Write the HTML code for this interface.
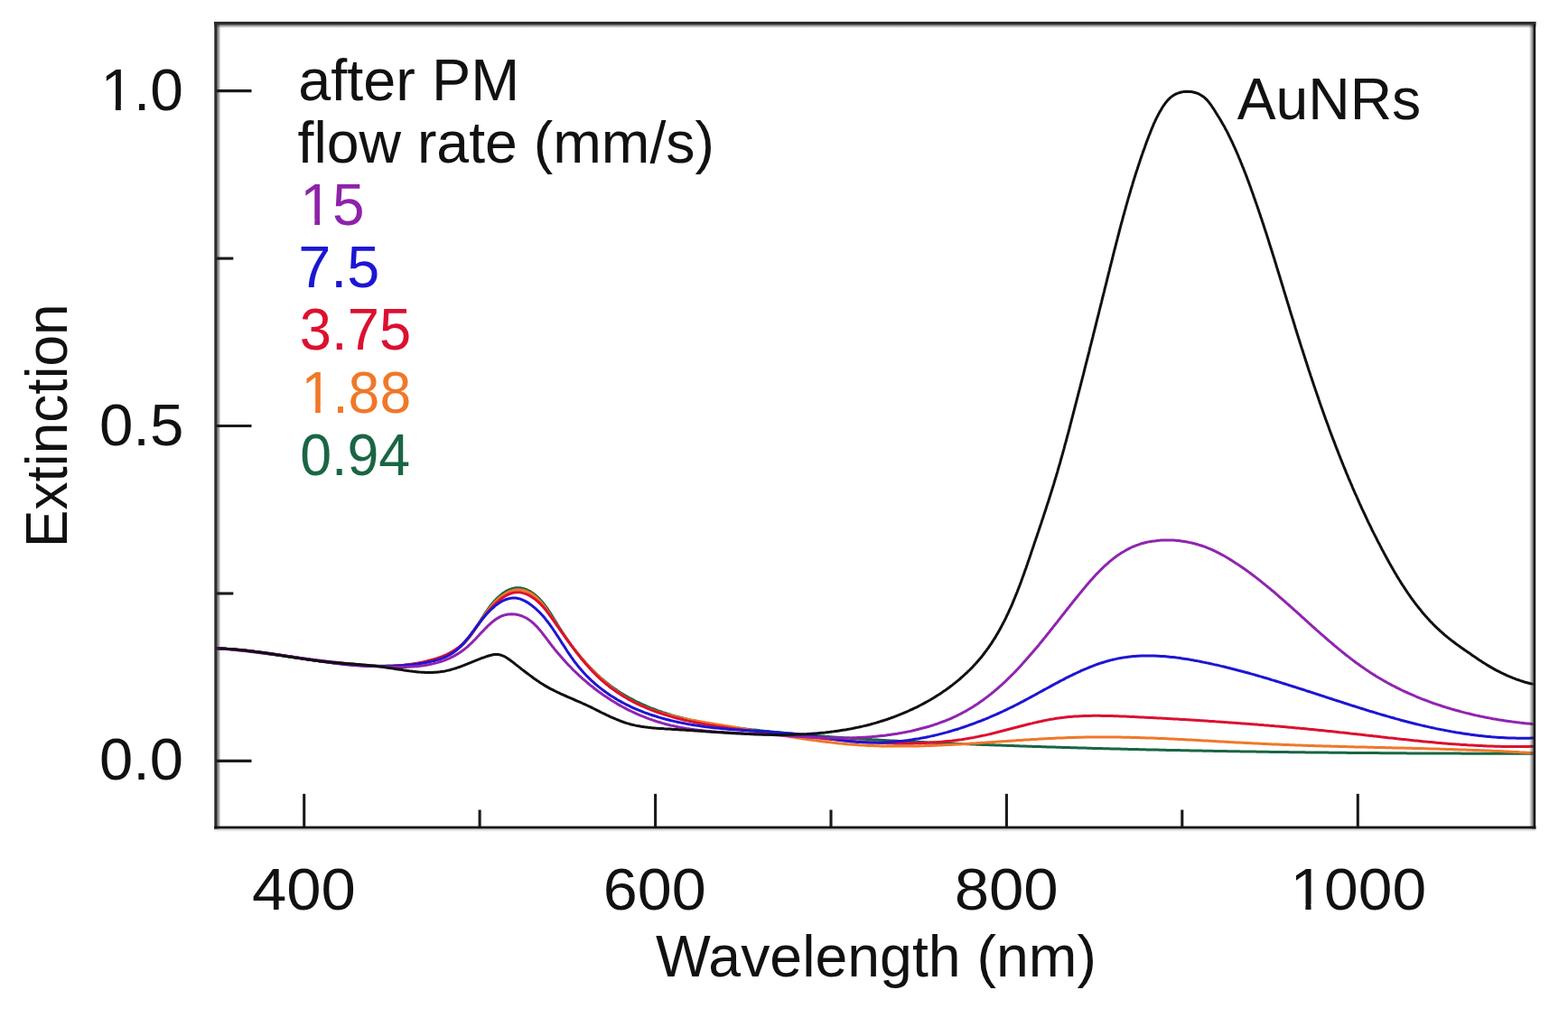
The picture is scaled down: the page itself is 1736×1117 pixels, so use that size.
<!DOCTYPE html>
<html><head><meta charset="utf-8"><title>Extinction spectra</title>
<style>html,body{margin:0;padding:0;background:#fff;}body{width:1736px;height:1117px;overflow:hidden;}svg{display:block;}</style>
</head><body>
<svg width="1736" height="1117" viewBox="0 0 1736 1117">
<rect width="100%" height="100%" fill="#ffffff"/>
<g fill="none" stroke-width="3.0" stroke-linejoin="round" stroke-linecap="round">
<path d="M240.3 717.7L242.3 717.8L244.3 717.9L246.3 718.1L248.3 718.2L250.3 718.3L252.3 718.5L254.3 718.6L256.3 718.8L258.3 718.9L260.3 719.1L262.3 719.3L264.3 719.5L266.3 719.7L268.3 719.9L270.3 720.1L272.2 720.3L274.2 720.6L276.2 720.8L278.2 721.0L280.2 721.3L282.2 721.5L284.2 721.8L286.2 722.0L288.2 722.3L290.1 722.5L292.1 722.8L294.1 723.1L296.1 723.3L298.1 723.6L300.1 723.9L302.0 724.2L304.0 724.5L306.0 724.8L308.0 725.0L310.0 725.3L311.9 725.6L313.9 725.9L315.9 726.2L317.9 726.5L319.9 726.8L321.8 727.1L323.8 727.4L325.8 727.7L327.8 728.0L329.8 728.3L331.7 728.6L333.7 728.9L335.7 729.2L337.7 729.5L339.7 729.8L341.6 730.1L343.6 730.4L345.6 730.6L347.6 730.9L349.6 731.2L351.6 731.5L353.5 731.7L355.5 732.0L357.5 732.3L359.5 732.5L361.5 732.8L363.5 733.0L365.5 733.3L367.4 733.5L369.4 733.8L371.4 734.0L373.4 734.2L375.4 734.4L377.4 734.6L379.4 734.8L381.4 735.0L383.4 735.2L385.4 735.4L387.4 735.6L389.4 735.8L391.4 735.9L393.4 736.1L395.3 736.2L397.3 736.4L399.3 736.5L401.3 736.6L403.3 736.7L405.3 736.8L407.3 736.9L409.3 737.0L411.3 737.0L413.3 737.1L415.4 737.1L417.4 737.2L419.4 737.2L421.4 737.2L423.4 737.2L425.4 737.2L427.4 737.2L429.4 737.1L431.4 737.1L433.4 737.0L435.4 737.0L437.4 736.9L439.4 736.8L441.4 736.7L443.4 736.6L445.4 736.4L447.4 736.3L449.4 736.1L451.4 735.9L453.3 735.7L455.3 735.5L457.3 735.3L459.3 735.0L461.3 734.8L463.3 734.5L465.3 734.2L467.2 733.8L469.2 733.5L471.2 733.1L473.1 732.7L475.1 732.2L477.0 731.7L479.0 731.2L480.9 730.7L482.8 730.1L484.7 729.5L486.6 728.9L488.5 728.2L490.3 727.4L492.2 726.7L494.0 725.8L495.8 725.0L497.6 724.1L499.4 723.1L501.1 722.1L502.8 721.1L504.5 720.0L506.1 718.8L507.7 717.6L509.3 716.4L510.8 715.0L512.3 713.7L513.7 712.3L515.1 710.8L516.4 709.4L517.7 707.8L519.0 706.3L520.2 704.7L521.4 703.1L522.6 701.5L523.7 699.8L524.8 698.2L525.9 696.5L527.0 694.8L528.1 693.1L529.2 691.4L530.3 689.7L531.3 688.0L532.4 686.3L533.4 684.6L534.5 683.0L535.6 681.3L536.7 679.6L537.8 677.9L538.9 676.3L540.1 674.6L541.2 673.0L542.4 671.4L543.7 669.8L544.9 668.2L546.2 666.7L547.5 665.2L548.9 663.8L550.3 662.3L551.8 661.0L553.3 659.6L554.8 658.3L556.4 657.1L558.0 656.0L559.7 654.9L561.5 653.9L563.3 653.0L565.1 652.3L567.0 651.6L569.0 651.2L570.9 650.8L572.9 650.7L574.9 650.7L576.9 651.0L578.9 651.4L580.8 652.0L582.7 652.7L584.5 653.5L586.3 654.4L588.0 655.4L589.7 656.5L591.3 657.7L592.9 658.9L594.4 660.3L595.8 661.6L597.3 663.0L598.6 664.5L600.0 666.0L601.2 667.5L602.5 669.1L603.7 670.7L604.9 672.3L606.1 673.9L607.2 675.6L608.3 677.2L609.4 678.9L610.5 680.6L611.6 682.3L612.6 684.0L613.7 685.7L614.7 687.4L615.8 689.1L616.8 690.8L617.9 692.5L618.9 694.2L620.0 695.9L621.1 697.6L622.2 699.3L623.2 701.0L624.4 702.6L625.5 704.3L626.6 705.9L627.7 707.6L628.9 709.2L630.0 710.9L631.2 712.5L632.4 714.1L633.6 715.7L634.8 717.3L636.0 718.9L637.2 720.5L638.5 722.1L639.7 723.6L641.0 725.2L642.3 726.7L643.5 728.3L644.8 729.8L646.2 731.3L647.5 732.8L648.8 734.3L650.2 735.8L651.5 737.2L652.9 738.7L654.3 740.1L655.7 741.5L657.1 742.9L658.6 744.3L660.0 745.7L661.5 747.1L663.0 748.4L664.4 749.8L666.0 751.1L667.5 752.4L669.0 753.7L670.6 755.0L672.1 756.2L673.7 757.5L675.3 758.7L676.9 759.9L678.5 761.0L680.1 762.2L681.8 763.3L683.4 764.5L685.1 765.6L686.8 766.7L688.5 767.7L690.2 768.8L691.9 769.8L693.7 770.8L695.4 771.8L697.2 772.8L698.9 773.7L700.7 774.6L702.5 775.6L704.3 776.5L706.1 777.3L707.9 778.2L709.7 779.0L711.5 779.9L713.3 780.7L715.2 781.5L717.0 782.3L718.9 783.0L720.7 783.8L722.6 784.5L724.5 785.2L726.3 785.9L728.2 786.6L730.1 787.3L732.0 787.9L733.9 788.6L735.8 789.2L737.7 789.8L739.6 790.4L741.5 791.0L743.4 791.6L745.4 792.1L747.3 792.7L749.2 793.2L751.2 793.7L753.1 794.2L755.0 794.7L757.0 795.2L758.9 795.7L760.9 796.2L762.8 796.6L764.8 797.1L766.7 797.5L768.7 797.9L770.6 798.3L772.6 798.7L774.6 799.1L776.5 799.5L778.5 799.9L780.5 800.3L782.4 800.6L784.4 801.0L786.4 801.3L788.3 801.7L790.3 802.0L792.3 802.3L794.3 802.7L796.2 803.0L798.2 803.3L800.2 803.6L802.2 803.9L804.2 804.1L806.2 804.4L808.1 804.7L810.1 805.0L812.1 805.2L814.1 805.5L816.1 805.8L818.1 806.0L820.1 806.3L822.0 806.5L824.0 806.7L826.0 807.0L828.0 807.2L830.0 807.4L832.0 807.7L834.0 807.9L836.0 808.1L838.0 808.3L839.9 808.5L841.9 808.8L843.9 809.0L845.9 809.2L847.9 809.4L849.9 809.6L851.9 809.8L853.9 810.0L855.9 810.2L857.9 810.4L859.9 810.6L861.9 810.8L863.8 811.0L865.8 811.2L867.8 811.4L869.8 811.6L871.8 811.8L873.8 811.9L875.8 812.1L877.8 812.3L879.8 812.5L881.8 812.7L883.8 812.8L885.8 813.0L887.8 813.2L889.8 813.4L891.8 813.5L893.8 813.7L895.8 813.9L897.8 814.0L899.7 814.2L901.7 814.4L903.7 814.5L905.7 814.7L907.7 814.8L909.7 815.0L911.7 815.1L913.7 815.3L915.7 815.4L917.7 815.6L919.7 815.7L921.7 815.9L923.7 816.0L925.7 816.2L927.7 816.3L929.7 816.5L931.7 816.6L933.7 816.7L935.7 816.9L937.7 817.0L939.7 817.1L941.7 817.3L943.7 817.4L945.7 817.5L947.7 817.7L949.7 817.8L951.7 817.9L953.7 818.0L955.7 818.2L957.7 818.3L959.7 818.4L961.7 818.5L963.7 818.6L965.7 818.8L967.7 818.9L969.7 819.0L971.7 819.1L973.7 819.2L975.7 819.3L977.7 819.4L979.7 819.5L981.7 819.7L983.7 819.8L985.7 819.9L987.7 820.0L989.7 820.1L991.7 820.2L993.7 820.3L995.7 820.4L997.7 820.5L999.7 820.6L1001.7 820.7L1003.7 820.8L1005.7 820.9L1007.7 821.0L1009.7 821.1L1011.7 821.2L1013.7 821.3L1015.7 821.4L1017.7 821.5L1019.7 821.6L1021.7 821.6L1023.7 821.7L1025.7 821.8L1027.7 821.9L1029.7 822.0L1031.7 822.1L1033.7 822.2L1035.7 822.3L1037.7 822.4L1039.7 822.4L1041.7 822.5L1043.7 822.6L1045.7 822.7L1047.7 822.8L1049.7 822.9L1051.7 823.0L1053.7 823.0L1055.7 823.1L1057.7 823.2L1059.7 823.3L1061.7 823.4L1063.7 823.4L1065.7 823.5L1067.7 823.6L1069.7 823.7L1071.7 823.8L1073.7 823.8L1075.7 823.9L1077.7 824.0L1079.7 824.1L1081.7 824.2L1083.7 824.2L1085.7 824.3L1087.7 824.4L1089.7 824.5L1091.7 824.5L1093.7 824.6L1095.7 824.7L1097.7 824.8L1099.7 824.8L1101.7 824.9L1103.7 825.0L1105.7 825.0L1107.7 825.1L1109.7 825.2L1111.7 825.3L1113.7 825.3L1115.7 825.4L1117.7 825.5L1119.7 825.5L1121.7 825.6L1123.7 825.7L1125.7 825.8L1127.7 825.8L1129.7 825.9L1131.7 826.0L1133.7 826.0L1135.7 826.1L1137.7 826.2L1139.7 826.2L1141.7 826.3L1143.7 826.4L1145.7 826.4L1147.7 826.5L1149.7 826.6L1151.7 826.6L1153.7 826.7L1155.7 826.8L1157.7 826.8L1159.7 826.9L1161.7 826.9L1163.7 827.0L1165.7 827.1L1167.7 827.1L1169.7 827.2L1171.7 827.3L1173.7 827.3L1175.7 827.4L1177.7 827.4L1179.7 827.5L1181.7 827.6L1183.7 827.6L1185.7 827.7L1187.7 827.7L1189.7 827.8L1191.7 827.8L1193.8 827.9L1195.8 828.0L1197.8 828.0L1199.8 828.1L1201.8 828.1L1203.8 828.2L1205.8 828.2L1207.8 828.3L1209.8 828.4L1211.8 828.4L1213.8 828.5L1215.8 828.5L1217.8 828.6L1219.8 828.6L1221.8 828.7L1223.8 828.7L1225.8 828.8L1227.8 828.8L1229.8 828.9L1231.8 828.9L1233.8 829.0L1235.8 829.0L1237.8 829.1L1239.8 829.1L1241.8 829.2L1243.8 829.2L1245.8 829.3L1247.8 829.3L1249.8 829.4L1251.8 829.4L1253.8 829.5L1255.8 829.5L1257.8 829.6L1259.8 829.6L1261.8 829.7L1263.8 829.7L1265.8 829.8L1267.8 829.8L1269.8 829.9L1271.8 829.9L1273.8 830.0L1275.8 830.0L1277.8 830.1L1279.8 830.1L1281.8 830.1L1283.8 830.2L1285.8 830.2L1287.8 830.3L1289.8 830.3L1291.8 830.4L1293.8 830.4L1295.8 830.4L1297.8 830.5L1299.8 830.5L1301.8 830.6L1303.8 830.6L1305.9 830.6L1307.9 830.7L1309.9 830.7L1311.9 830.8L1313.9 830.8L1315.9 830.8L1317.9 830.9L1319.9 830.9L1321.9 831.0L1323.9 831.0L1325.9 831.0L1327.9 831.1L1329.9 831.1L1331.9 831.2L1333.9 831.2L1335.9 831.2L1337.9 831.3L1339.9 831.3L1341.9 831.3L1343.9 831.4L1345.9 831.4L1347.9 831.4L1349.9 831.5L1351.9 831.5L1353.9 831.6L1355.9 831.6L1357.9 831.6L1359.9 831.7L1361.9 831.7L1363.9 831.7L1365.9 831.8L1367.9 831.8L1369.9 831.8L1371.9 831.8L1373.9 831.9L1375.9 831.9L1377.9 831.9L1379.9 832.0L1381.9 832.0L1383.9 832.0L1385.9 832.1L1387.9 832.1L1389.9 832.1L1391.9 832.2L1393.9 832.2L1395.9 832.2L1397.9 832.2L1399.9 832.3L1402.0 832.3L1404.0 832.3L1406.0 832.4L1408.0 832.4L1410.0 832.4L1412.0 832.4L1414.0 832.5L1416.0 832.5L1418.0 832.5L1420.0 832.5L1422.0 832.6L1424.0 832.6L1426.0 832.6L1428.0 832.7L1430.0 832.7L1432.0 832.7L1434.0 832.7L1436.0 832.8L1438.0 832.8L1440.0 832.8L1442.0 832.8L1444.0 832.8L1446.0 832.9L1448.0 832.9L1450.0 832.9L1452.0 832.9L1454.0 833.0L1456.0 833.0L1458.0 833.0L1460.0 833.0L1462.0 833.1L1464.0 833.1L1466.0 833.1L1468.0 833.1L1470.0 833.1L1472.0 833.2L1474.0 833.2L1476.0 833.2L1478.0 833.2L1480.0 833.2L1482.0 833.3L1484.0 833.3L1486.0 833.3L1488.0 833.3L1490.1 833.3L1492.1 833.4L1494.1 833.4L1496.1 833.4L1498.1 833.4L1500.1 833.4L1502.1 833.4L1504.1 833.5L1506.1 833.5L1508.1 833.5L1510.1 833.5L1512.1 833.5L1514.1 833.5L1516.1 833.6L1518.1 833.6L1520.1 833.6L1522.1 833.6L1524.1 833.6L1526.1 833.6L1528.1 833.7L1530.1 833.7L1532.1 833.7L1534.1 833.7L1536.1 833.7L1538.1 833.7L1540.1 833.7L1542.1 833.8L1544.1 833.8L1546.1 833.8L1548.1 833.8L1550.1 833.8L1552.1 833.8L1554.1 833.8L1556.1 833.8L1558.1 833.9L1560.1 833.9L1562.1 833.9L1564.1 833.9L1566.1 833.9L1568.1 833.9L1570.1 833.9L1572.1 833.9L1574.2 834.0L1576.2 834.0L1578.2 834.0L1580.2 834.0L1582.2 834.0L1584.2 834.0L1586.2 834.0L1588.2 834.0L1590.2 834.0L1592.2 834.0L1594.2 834.1L1596.2 834.1L1598.2 834.1L1600.2 834.1L1602.2 834.1L1604.2 834.1L1606.2 834.1L1608.2 834.1L1610.2 834.1L1612.2 834.1L1614.2 834.1L1616.2 834.1L1618.2 834.2L1620.2 834.2L1622.2 834.2L1624.2 834.2L1626.2 834.2L1628.2 834.2L1630.2 834.2L1632.2 834.2L1634.2 834.2L1636.2 834.2L1638.2 834.2L1640.2 834.2L1642.2 834.2L1644.2 834.2L1646.2 834.2L1648.2 834.2L1650.2 834.2L1652.2 834.3L1654.2 834.3L1656.2 834.3L1658.3 834.3L1660.3 834.3L1662.3 834.3L1664.3 834.3L1666.3 834.3L1668.3 834.3L1670.3 834.3L1672.3 834.3L1674.3 834.3L1676.3 834.3L1678.3 834.3L1680.3 834.3L1682.3 834.3L1684.3 834.3L1686.3 834.3L1688.3 834.3L1690.3 834.3L1692.3 834.3L1694.3 834.3L1696.3 834.3" stroke="#1a6644"/>
<path d="M240.4 717.8L242.4 717.9L244.4 718.0L246.3 718.1L248.3 718.2L250.3 718.3L252.3 718.5L254.3 718.6L256.3 718.7L258.3 718.9L260.3 719.1L262.3 719.2L264.3 719.4L266.3 719.6L268.3 719.8L270.3 720.0L272.3 720.2L274.3 720.5L276.2 720.7L278.2 720.9L280.2 721.1L282.2 721.4L284.2 721.6L286.2 721.9L288.2 722.1L290.1 722.4L292.1 722.7L294.1 722.9L296.1 723.2L298.1 723.5L300.0 723.8L302.0 724.1L304.0 724.4L306.0 724.6L308.0 724.9L309.9 725.2L311.9 725.5L313.9 725.8L315.9 726.1L317.9 726.4L319.8 726.7L321.8 727.0L323.8 727.3L325.8 727.7L327.7 728.0L329.7 728.3L331.7 728.6L333.7 728.9L335.6 729.2L337.6 729.5L339.6 729.8L341.6 730.1L343.6 730.3L345.5 730.6L347.5 730.9L349.5 731.2L351.5 731.5L353.5 731.8L355.4 732.1L357.4 732.3L359.4 732.6L361.4 732.9L363.4 733.1L365.4 733.4L367.3 733.6L369.3 733.9L371.3 734.1L373.3 734.3L375.3 734.5L377.3 734.8L379.3 735.0L381.3 735.2L383.3 735.4L385.2 735.6L387.2 735.7L389.2 735.9L391.2 736.1L393.2 736.2L395.2 736.4L397.2 736.5L399.2 736.6L401.2 736.8L403.2 736.9L405.2 737.0L407.2 737.1L409.2 737.1L411.2 737.2L413.2 737.3L415.2 737.3L417.2 737.3L419.2 737.4L421.2 737.4L423.2 737.4L425.2 737.4L427.2 737.3L429.2 737.3L431.2 737.3L433.2 737.2L435.2 737.1L437.2 737.0L439.2 736.9L441.2 736.8L443.2 736.7L445.2 736.5L447.2 736.4L449.2 736.2L451.2 736.0L453.1 735.8L455.1 735.6L457.1 735.3L459.1 735.1L461.1 734.8L463.1 734.5L465.0 734.1L467.0 733.8L469.0 733.4L470.9 733.0L472.9 732.6L474.8 732.1L476.8 731.6L478.7 731.1L480.6 730.5L482.5 730.0L484.4 729.3L486.3 728.7L488.2 728.0L490.1 727.2L491.9 726.5L493.7 725.6L495.5 724.8L497.3 723.9L499.1 722.9L500.8 721.9L502.5 720.9L504.2 719.8L505.8 718.7L507.4 717.5L509.0 716.2L510.5 714.9L512.0 713.6L513.5 712.2L514.9 710.8L516.2 709.3L517.6 707.8L518.8 706.3L520.1 704.7L521.3 703.2L522.5 701.5L523.7 699.9L524.9 698.3L526.0 696.7L527.1 695.0L528.2 693.3L529.3 691.7L530.4 690.0L531.5 688.3L532.7 686.7L533.8 685.0L534.9 683.3L536.0 681.7L537.2 680.1L538.3 678.4L539.5 676.8L540.7 675.2L541.9 673.6L543.2 672.1L544.5 670.5L545.8 669.0L547.1 667.5L548.5 666.1L549.9 664.7L551.4 663.3L552.9 662.0L554.4 660.7L556.0 659.5L557.7 658.4L559.4 657.3L561.1 656.3L562.9 655.4L564.7 654.6L566.6 654.0L568.5 653.4L570.5 653.0L572.5 652.8L574.5 652.8L576.5 652.9L578.5 653.2L580.4 653.7L582.3 654.3L584.1 655.1L585.9 656.0L587.7 656.9L589.4 658.0L591.0 659.2L592.6 660.4L594.1 661.7L595.5 663.1L596.9 664.5L598.3 666.0L599.6 667.5L600.8 669.1L602.1 670.7L603.3 672.3L604.4 673.9L605.6 675.5L606.7 677.2L607.8 678.8L608.9 680.5L610.0 682.2L611.1 683.8L612.3 685.5L613.4 687.2L614.5 688.8L615.6 690.5L616.7 692.2L617.8 693.8L619.0 695.5L620.1 697.1L621.2 698.8L622.4 700.4L623.5 702.0L624.7 703.7L625.9 705.3L627.0 706.9L628.2 708.5L629.4 710.1L630.6 711.7L631.8 713.3L633.0 714.9L634.2 716.5L635.5 718.1L636.7 719.7L638.0 721.2L639.2 722.8L640.5 724.3L641.7 725.9L643.0 727.4L644.3 728.9L645.6 730.5L646.9 732.0L648.2 733.5L649.6 735.0L650.9 736.5L652.3 737.9L653.6 739.4L655.0 740.9L656.4 742.3L657.8 743.7L659.2 745.1L660.6 746.6L662.1 747.9L663.5 749.3L665.0 750.7L666.4 752.1L667.9 753.4L669.4 754.7L670.9 756.0L672.4 757.3L674.0 758.6L675.5 759.9L677.1 761.1L678.7 762.3L680.3 763.6L681.9 764.7L683.5 765.9L685.1 767.1L686.8 768.2L688.4 769.3L690.1 770.4L691.8 771.5L693.5 772.5L695.2 773.6L697.0 774.6L698.7 775.5L700.5 776.5L702.2 777.4L704.0 778.3L705.8 779.2L707.6 780.1L709.4 780.9L711.3 781.7L713.1 782.5L715.0 783.2L716.8 784.0L718.7 784.7L720.6 785.4L722.5 786.1L724.3 786.7L726.2 787.4L728.1 788.0L730.1 788.6L732.0 789.2L733.9 789.7L735.8 790.3L737.7 790.8L739.7 791.3L741.6 791.8L743.5 792.3L745.5 792.8L747.4 793.3L749.4 793.7L751.3 794.2L753.3 794.6L755.2 795.0L757.2 795.4L759.2 795.8L761.1 796.2L763.1 796.6L765.0 797.0L767.0 797.3L769.0 797.7L771.0 798.1L772.9 798.4L774.9 798.8L776.9 799.1L778.8 799.4L780.8 799.8L782.8 800.1L784.8 800.4L786.7 800.8L788.7 801.1L790.7 801.4L792.6 801.7L794.6 802.1L796.6 802.4L798.6 802.7L800.5 803.0L802.5 803.4L804.5 803.7L806.5 804.0L808.4 804.3L810.4 804.7L812.4 805.0L814.4 805.3L816.3 805.7L818.3 806.0L820.3 806.4L822.2 806.7L824.2 807.0L826.2 807.4L828.2 807.7L830.1 808.1L832.1 808.4L834.1 808.7L836.0 809.1L838.0 809.4L840.0 809.8L842.0 810.1L843.9 810.4L845.9 810.8L847.9 811.1L849.8 811.5L851.8 811.8L853.8 812.1L855.8 812.5L857.7 812.8L859.7 813.1L861.7 813.5L863.7 813.8L865.6 814.1L867.6 814.4L869.6 814.8L871.5 815.1L873.5 815.4L875.5 815.7L877.5 816.0L879.4 816.3L881.4 816.7L883.4 817.0L885.4 817.3L887.4 817.6L889.3 817.9L891.3 818.1L893.3 818.4L895.3 818.7L897.3 819.0L899.2 819.3L901.2 819.6L903.2 819.8L905.2 820.1L907.2 820.4L909.2 820.6L911.1 820.9L913.1 821.1L915.1 821.4L917.1 821.6L919.1 821.8L921.1 822.1L923.1 822.3L925.0 822.5L927.0 822.7L929.0 822.9L931.0 823.1L933.0 823.3L935.0 823.5L937.0 823.7L939.0 823.9L941.0 824.0L943.0 824.2L945.0 824.3L947.0 824.5L949.0 824.6L950.9 824.8L952.9 824.9L954.9 825.0L956.9 825.1L958.9 825.3L960.9 825.4L962.9 825.4L964.9 825.5L966.9 825.6L968.9 825.7L970.9 825.8L972.9 825.8L974.9 825.9L976.9 825.9L978.9 826.0L980.9 826.0L982.9 826.1L984.9 826.1L986.9 826.1L988.9 826.1L990.9 826.1L992.9 826.1L994.9 826.1L996.9 826.1L998.9 826.1L1000.9 826.1L1002.9 826.1L1004.9 826.1L1006.9 826.1L1008.9 826.0L1010.9 826.0L1012.9 826.0L1014.9 825.9L1016.9 825.9L1018.9 825.8L1020.9 825.8L1022.9 825.7L1024.9 825.6L1026.9 825.6L1028.9 825.5L1030.9 825.4L1032.9 825.3L1034.9 825.3L1036.9 825.2L1038.9 825.1L1040.9 825.0L1042.9 824.9L1044.9 824.8L1046.9 824.7L1048.9 824.6L1050.9 824.5L1052.9 824.4L1054.9 824.3L1056.9 824.2L1058.9 824.1L1060.9 824.0L1062.9 823.9L1064.9 823.7L1066.9 823.6L1068.9 823.5L1070.9 823.4L1072.9 823.2L1074.9 823.1L1076.9 823.0L1078.9 822.9L1080.9 822.7L1082.9 822.6L1084.9 822.5L1086.9 822.3L1088.9 822.2L1090.8 822.1L1092.8 821.9L1094.8 821.8L1096.8 821.7L1098.8 821.5L1100.8 821.4L1102.8 821.3L1104.8 821.1L1106.8 821.0L1108.8 820.8L1110.8 820.7L1112.8 820.6L1114.8 820.4L1116.8 820.3L1118.8 820.2L1120.8 820.0L1122.8 819.9L1124.8 819.8L1126.8 819.6L1128.8 819.5L1130.8 819.4L1132.8 819.2L1134.8 819.1L1136.8 819.0L1138.8 818.9L1140.7 818.7L1142.7 818.6L1144.7 818.5L1146.7 818.4L1148.7 818.3L1150.7 818.1L1152.7 818.0L1154.7 817.9L1156.7 817.8L1158.7 817.7L1160.7 817.6L1162.7 817.5L1164.7 817.4L1166.7 817.3L1168.7 817.2L1170.7 817.1L1172.7 817.0L1174.7 816.9L1176.7 816.9L1178.7 816.8L1180.7 816.7L1182.7 816.6L1184.7 816.6L1186.7 816.5L1188.7 816.4L1190.7 816.4L1192.7 816.3L1194.7 816.3L1196.7 816.2L1198.7 816.2L1200.7 816.1L1202.7 816.1L1204.7 816.1L1206.7 816.0L1208.7 816.0L1210.7 816.0L1212.7 816.0L1214.7 816.0L1216.7 816.0L1218.7 816.0L1220.7 816.0L1222.7 816.0L1224.7 816.0L1226.7 816.0L1228.7 816.0L1230.7 816.0L1232.7 816.0L1234.7 816.0L1236.7 816.1L1238.7 816.1L1240.7 816.1L1242.7 816.2L1244.7 816.2L1246.7 816.2L1248.7 816.3L1250.7 816.3L1252.7 816.4L1254.7 816.4L1256.7 816.5L1258.7 816.5L1260.7 816.6L1262.7 816.7L1264.7 816.7L1266.7 816.8L1268.7 816.9L1270.7 816.9L1272.7 817.0L1274.7 817.1L1276.7 817.1L1278.7 817.2L1280.7 817.3L1282.7 817.4L1284.7 817.5L1286.7 817.6L1288.7 817.6L1290.7 817.7L1292.7 817.8L1294.7 817.9L1296.7 818.0L1298.7 818.1L1300.7 818.2L1302.7 818.3L1304.7 818.4L1306.7 818.5L1308.7 818.6L1310.7 818.7L1312.7 818.8L1314.7 818.9L1316.7 819.0L1318.7 819.1L1320.7 819.2L1322.7 819.3L1324.7 819.4L1326.7 819.5L1328.7 819.7L1330.7 819.8L1332.7 819.9L1334.6 820.0L1336.6 820.1L1338.6 820.2L1340.6 820.3L1342.6 820.4L1344.6 820.5L1346.6 820.7L1348.6 820.8L1350.6 820.9L1352.6 821.0L1354.6 821.1L1356.6 821.2L1358.6 821.3L1360.6 821.4L1362.6 821.6L1364.6 821.7L1366.6 821.8L1368.6 821.9L1370.6 822.0L1372.6 822.1L1374.6 822.2L1376.6 822.3L1378.6 822.4L1380.6 822.5L1382.6 822.6L1384.6 822.7L1386.6 822.8L1388.6 822.9L1390.6 823.0L1392.6 823.1L1394.6 823.2L1396.6 823.3L1398.6 823.4L1400.6 823.5L1402.6 823.6L1404.6 823.7L1406.6 823.8L1408.6 823.9L1410.6 824.0L1412.6 824.1L1414.6 824.1L1416.6 824.2L1418.6 824.3L1420.6 824.4L1422.6 824.5L1424.6 824.5L1426.6 824.6L1428.6 824.7L1430.6 824.8L1432.6 824.8L1434.6 824.9L1436.6 825.0L1438.5 825.1L1440.5 825.1L1442.5 825.2L1444.5 825.3L1446.5 825.3L1448.5 825.4L1450.5 825.5L1452.5 825.5L1454.5 825.6L1456.5 825.7L1458.5 825.7L1460.5 825.8L1462.5 825.8L1464.5 825.9L1466.5 826.0L1468.5 826.0L1470.5 826.1L1472.5 826.1L1474.5 826.2L1476.5 826.2L1478.5 826.3L1480.5 826.3L1482.5 826.4L1484.5 826.5L1486.5 826.5L1488.5 826.6L1490.5 826.6L1492.5 826.7L1494.5 826.7L1496.5 826.8L1498.5 826.8L1500.5 826.9L1502.5 826.9L1504.5 827.0L1506.5 827.0L1508.5 827.1L1510.5 827.1L1512.5 827.1L1514.5 827.2L1516.5 827.2L1518.5 827.3L1520.5 827.3L1522.5 827.4L1524.5 827.4L1526.5 827.5L1528.5 827.5L1530.5 827.6L1532.5 827.6L1534.5 827.7L1536.5 827.7L1538.5 827.8L1540.5 827.8L1542.5 827.9L1544.5 827.9L1546.5 827.9L1548.5 828.0L1550.5 828.0L1552.5 828.1L1554.5 828.1L1556.5 828.2L1558.5 828.2L1560.5 828.3L1562.5 828.3L1564.5 828.4L1566.5 828.4L1568.5 828.5L1570.5 828.5L1572.5 828.6L1574.5 828.6L1576.5 828.7L1578.5 828.7L1580.5 828.8L1582.5 828.9L1584.5 828.9L1586.5 829.0L1588.5 829.0L1590.5 829.1L1592.5 829.1L1594.5 829.2L1596.5 829.2L1598.5 829.3L1600.5 829.4L1602.5 829.4L1604.5 829.5L1606.5 829.6L1608.5 829.6L1610.5 829.7L1612.5 829.7L1614.5 829.8L1616.5 829.9L1618.5 829.9L1620.5 830.0L1622.5 830.1L1624.5 830.2L1626.5 830.2L1628.5 830.3L1630.5 830.4L1632.5 830.4L1634.5 830.5L1636.5 830.6L1638.5 830.7L1640.5 830.8L1642.5 830.8L1644.5 830.9L1646.5 831.0L1648.5 831.1L1650.5 831.2L1652.5 831.3L1654.5 831.4L1656.5 831.4L1658.5 831.5L1660.5 831.6L1662.5 831.7L1664.5 831.8L1666.5 831.9L1668.5 832.0L1670.5 832.1L1672.5 832.2L1674.5 832.3L1676.5 832.4L1678.5 832.5L1680.5 832.6L1682.5 832.8L1684.5 832.9L1686.5 833.0L1688.5 833.1L1690.5 833.2L1692.5 833.3L1694.5 833.5L1696.5 833.6" stroke="#f07828"/>
<path d="M240.7 718.0L242.7 718.0L244.7 718.1L246.7 718.2L248.7 718.2L250.7 718.3L252.7 718.4L254.7 718.6L256.7 718.7L258.7 718.8L260.6 719.0L262.6 719.1L264.6 719.3L266.6 719.5L268.6 719.7L270.6 719.9L272.6 720.1L274.6 720.3L276.6 720.5L278.6 720.7L280.6 720.9L282.5 721.2L284.5 721.4L286.5 721.7L288.5 721.9L290.5 722.2L292.5 722.5L294.5 722.8L296.4 723.0L298.4 723.3L300.4 723.6L302.4 723.9L304.4 724.2L306.3 724.5L308.3 724.8L310.3 725.1L312.3 725.4L314.2 725.7L316.2 726.0L318.2 726.3L320.2 726.7L322.2 727.0L324.1 727.3L326.1 727.6L328.1 727.9L330.1 728.2L332.0 728.6L334.0 728.9L336.0 729.2L338.0 729.5L339.9 729.8L341.9 730.1L343.9 730.4L345.9 730.7L347.9 731.0L349.8 731.3L351.8 731.6L353.8 731.9L355.8 732.2L357.8 732.5L359.7 732.8L361.7 733.0L363.7 733.3L365.7 733.6L367.7 733.8L369.7 734.1L371.6 734.3L373.6 734.6L375.6 734.8L377.6 735.0L379.6 735.3L381.6 735.5L383.6 735.7L385.6 735.9L387.6 736.1L389.6 736.3L391.5 736.4L393.5 736.6L395.5 736.7L397.5 736.9L399.5 737.0L401.5 737.1L403.5 737.2L405.5 737.3L407.5 737.4L409.5 737.5L411.5 737.6L413.5 737.6L415.5 737.7L417.5 737.7L419.5 737.7L421.5 737.7L423.5 737.7L425.5 737.6L427.5 737.6L429.5 737.5L431.5 737.5L433.5 737.4L435.5 737.3L437.5 737.1L439.5 737.0L441.5 736.8L443.5 736.7L445.5 736.5L447.5 736.3L449.5 736.0L451.5 735.8L453.5 735.5L455.4 735.2L457.4 734.9L459.4 734.6L461.4 734.3L463.3 733.9L465.3 733.5L467.3 733.1L469.2 732.7L471.2 732.3L473.1 731.8L475.1 731.3L477.0 730.8L478.9 730.3L480.8 729.7L482.7 729.1L484.6 728.5L486.5 727.8L488.4 727.1L490.3 726.4L492.1 725.6L493.9 724.8L495.8 723.9L497.5 723.0L499.3 722.1L501.0 721.1L502.8 720.1L504.4 719.0L506.1 717.8L507.7 716.7L509.3 715.4L510.8 714.1L512.3 712.8L513.7 711.4L515.1 710.0L516.5 708.5L517.8 707.0L519.1 705.5L520.3 703.9L521.6 702.3L522.8 700.7L524.0 699.1L525.1 697.5L526.3 695.9L527.5 694.2L528.6 692.6L529.8 691.0L531.0 689.4L532.2 687.8L533.4 686.1L534.6 684.5L535.8 683.0L537.0 681.4L538.3 679.8L539.5 678.3L540.8 676.7L542.1 675.2L543.4 673.7L544.8 672.2L546.2 670.8L547.6 669.4L549.0 668.0L550.5 666.6L552.0 665.3L553.5 664.0L555.1 662.8L556.7 661.6L558.4 660.5L560.1 659.5L561.9 658.6L563.7 657.7L565.6 657.0L567.5 656.4L569.5 656.0L571.4 655.8L573.4 655.7L575.4 655.8L577.4 656.1L579.4 656.6L581.3 657.1L583.1 657.9L585.0 658.7L586.7 659.6L588.4 660.7L590.1 661.8L591.8 662.9L593.3 664.1L594.9 665.4L596.4 666.8L597.8 668.1L599.2 669.6L600.6 671.0L601.9 672.5L603.2 674.0L604.5 675.6L605.7 677.2L606.9 678.8L608.1 680.4L609.3 682.0L610.5 683.6L611.6 685.2L612.8 686.9L613.9 688.5L615.1 690.1L616.2 691.8L617.4 693.4L618.5 695.0L619.7 696.7L620.9 698.3L622.0 700.0L623.2 701.6L624.3 703.2L625.5 704.9L626.6 706.5L627.8 708.1L629.0 709.7L630.2 711.4L631.3 713.0L632.5 714.6L633.7 716.2L634.9 717.8L636.1 719.4L637.3 721.0L638.6 722.6L639.8 724.2L641.0 725.7L642.3 727.3L643.5 728.9L644.8 730.4L646.1 731.9L647.3 733.5L648.6 735.0L650.0 736.5L651.3 738.0L652.6 739.5L654.0 741.0L655.3 742.4L656.7 743.9L658.1 745.3L659.5 746.8L660.9 748.2L662.4 749.5L663.8 750.9L665.3 752.3L666.8 753.6L668.3 754.9L669.8 756.2L671.4 757.5L672.9 758.7L674.5 760.0L676.1 761.2L677.7 762.4L679.3 763.6L681.0 764.7L682.6 765.9L684.3 767.0L685.9 768.1L687.6 769.2L689.3 770.2L691.0 771.3L692.8 772.3L694.5 773.3L696.2 774.3L698.0 775.2L699.8 776.2L701.5 777.1L703.3 778.0L705.1 778.9L706.9 779.7L708.7 780.6L710.5 781.4L712.4 782.2L714.2 783.0L716.0 783.8L717.9 784.6L719.8 785.3L721.6 786.1L723.5 786.8L725.4 787.5L727.2 788.2L729.1 788.8L731.0 789.5L732.9 790.1L734.8 790.7L736.7 791.3L738.6 791.9L740.6 792.5L742.5 793.1L744.4 793.6L746.3 794.2L748.3 794.7L750.2 795.2L752.1 795.7L754.1 796.2L756.0 796.7L758.0 797.2L759.9 797.6L761.9 798.1L763.8 798.5L765.8 798.9L767.7 799.3L769.7 799.7L771.6 800.1L773.6 800.5L775.6 800.9L777.5 801.3L779.5 801.6L781.5 802.0L783.5 802.3L785.4 802.7L787.4 803.0L789.4 803.3L791.4 803.6L793.3 804.0L795.3 804.3L797.3 804.6L799.3 804.8L801.2 805.1L803.2 805.4L805.2 805.7L807.2 806.0L809.2 806.2L811.2 806.5L813.1 806.7L815.1 807.0L817.1 807.2L819.1 807.5L821.1 807.7L823.1 808.0L825.1 808.2L827.1 808.4L829.0 808.6L831.0 808.9L833.0 809.1L835.0 809.3L837.0 809.5L839.0 809.8L841.0 810.0L843.0 810.2L845.0 810.4L847.0 810.6L848.9 810.8L850.9 811.0L852.9 811.3L854.9 811.5L856.9 811.7L858.9 811.9L860.9 812.1L862.9 812.3L864.9 812.5L866.9 812.8L868.8 813.0L870.8 813.2L872.8 813.4L874.8 813.6L876.8 813.8L878.8 814.1L880.8 814.3L882.8 814.5L884.8 814.7L886.7 814.9L888.7 815.1L890.7 815.4L892.7 815.6L894.7 815.8L896.7 816.0L898.7 816.2L900.7 816.4L902.7 816.6L904.7 816.9L906.6 817.1L908.6 817.3L910.6 817.5L912.6 817.7L914.6 817.9L916.6 818.1L918.6 818.3L920.6 818.5L922.6 818.6L924.6 818.8L926.6 819.0L928.6 819.2L930.6 819.4L932.5 819.6L934.5 819.7L936.5 819.9L938.5 820.1L940.5 820.2L942.5 820.4L944.5 820.6L946.5 820.7L948.5 820.9L950.5 821.0L952.5 821.1L954.5 821.3L956.5 821.4L958.5 821.5L960.5 821.7L962.5 821.8L964.5 821.9L966.5 822.0L968.5 822.1L970.5 822.2L972.5 822.3L974.5 822.4L976.5 822.5L978.5 822.5L980.5 822.6L982.5 822.7L984.5 822.7L986.5 822.8L988.5 822.8L990.5 822.9L992.5 822.9L994.5 822.9L996.5 822.9L998.5 823.0L1000.5 823.0L1002.5 823.0L1004.5 822.9L1006.5 822.9L1008.5 822.9L1010.5 822.9L1012.5 822.8L1014.5 822.8L1016.5 822.7L1018.5 822.7L1020.5 822.6L1022.5 822.5L1024.5 822.4L1026.5 822.3L1028.5 822.2L1030.5 822.1L1032.5 822.0L1034.5 821.8L1036.5 821.7L1038.5 821.5L1040.5 821.4L1042.5 821.2L1044.5 821.0L1046.4 820.8L1048.4 820.6L1050.4 820.4L1052.4 820.2L1054.4 820.0L1056.4 819.7L1058.4 819.5L1060.4 819.2L1062.3 818.9L1064.3 818.7L1066.3 818.4L1068.3 818.1L1070.3 817.7L1072.2 817.4L1074.2 817.1L1076.2 816.7L1078.2 816.4L1080.1 816.0L1082.1 815.6L1084.0 815.2L1086.0 814.8L1088.0 814.4L1089.9 814.0L1091.9 813.6L1093.8 813.1L1095.8 812.7L1097.7 812.2L1099.7 811.7L1101.6 811.3L1103.6 810.8L1105.5 810.3L1107.4 809.8L1109.4 809.3L1111.3 808.8L1113.3 808.3L1115.2 807.8L1117.1 807.3L1119.1 806.8L1121.0 806.3L1122.9 805.8L1124.9 805.3L1126.8 804.8L1128.7 804.3L1130.7 803.8L1132.6 803.3L1134.6 802.8L1136.5 802.3L1138.4 801.8L1140.4 801.3L1142.3 800.9L1144.3 800.4L1146.2 799.9L1148.2 799.5L1150.1 799.0L1152.1 798.6L1154.0 798.2L1156.0 797.8L1158.0 797.4L1159.9 797.0L1161.9 796.6L1163.9 796.3L1165.8 796.0L1167.8 795.6L1169.8 795.3L1171.8 795.0L1173.8 794.7L1175.7 794.5L1177.7 794.3L1179.7 794.0L1181.7 793.8L1183.7 793.6L1185.7 793.4L1187.7 793.3L1189.7 793.1L1191.7 793.0L1193.7 792.9L1195.7 792.8L1197.7 792.7L1199.7 792.6L1201.7 792.5L1203.7 792.5L1205.7 792.4L1207.7 792.4L1209.7 792.3L1211.7 792.3L1213.7 792.3L1215.7 792.3L1217.7 792.3L1219.7 792.4L1221.7 792.4L1223.7 792.4L1225.7 792.5L1227.7 792.5L1229.7 792.6L1231.7 792.6L1233.7 792.7L1235.7 792.7L1237.7 792.8L1239.7 792.9L1241.7 793.0L1243.7 793.1L1245.7 793.1L1247.7 793.2L1249.7 793.3L1251.7 793.4L1253.7 793.5L1255.7 793.6L1257.7 793.7L1259.7 793.8L1261.7 793.9L1263.7 794.0L1265.7 794.1L1267.7 794.2L1269.7 794.3L1271.7 794.4L1273.7 794.5L1275.7 794.6L1277.7 794.7L1279.7 794.8L1281.7 794.9L1283.7 795.0L1285.7 795.1L1287.7 795.2L1289.7 795.3L1291.7 795.5L1293.7 795.6L1295.7 795.7L1297.7 795.8L1299.7 795.9L1301.7 796.0L1303.7 796.1L1305.7 796.2L1307.6 796.4L1309.6 796.5L1311.6 796.6L1313.6 796.7L1315.6 796.8L1317.6 797.0L1319.6 797.1L1321.6 797.2L1323.6 797.3L1325.6 797.5L1327.6 797.6L1329.6 797.7L1331.6 797.8L1333.6 798.0L1335.6 798.1L1337.6 798.2L1339.6 798.4L1341.6 798.5L1343.6 798.6L1345.6 798.8L1347.6 798.9L1349.6 799.0L1351.6 799.2L1353.6 799.3L1355.6 799.4L1357.6 799.6L1359.6 799.7L1361.6 799.9L1363.6 800.0L1365.6 800.2L1367.6 800.3L1369.6 800.4L1371.6 800.6L1373.6 800.7L1375.5 800.9L1377.5 801.0L1379.5 801.2L1381.5 801.3L1383.5 801.5L1385.5 801.7L1387.5 801.8L1389.5 802.0L1391.5 802.1L1393.5 802.3L1395.5 802.4L1397.5 802.6L1399.5 802.8L1401.5 802.9L1403.5 803.1L1405.5 803.3L1407.5 803.4L1409.5 803.6L1411.5 803.8L1413.5 803.9L1415.4 804.1L1417.4 804.3L1419.4 804.5L1421.4 804.6L1423.4 804.8L1425.4 805.0L1427.4 805.2L1429.4 805.3L1431.4 805.5L1433.4 805.7L1435.4 805.9L1437.4 806.1L1439.4 806.3L1441.4 806.4L1443.4 806.6L1445.3 806.8L1447.3 807.0L1449.3 807.2L1451.3 807.4L1453.3 807.6L1455.3 807.8L1457.3 808.0L1459.3 808.2L1461.3 808.4L1463.3 808.6L1465.3 808.8L1467.3 809.0L1469.2 809.2L1471.2 809.4L1473.2 809.6L1475.2 809.8L1477.2 810.0L1479.2 810.2L1481.2 810.4L1483.2 810.7L1485.2 810.9L1487.2 811.1L1489.1 811.3L1491.1 811.5L1493.1 811.7L1495.1 812.0L1497.1 812.2L1499.1 812.4L1501.1 812.6L1503.1 812.9L1505.1 813.1L1507.0 813.3L1509.0 813.5L1511.0 813.7L1513.0 814.0L1515.0 814.2L1517.0 814.4L1519.0 814.6L1521.0 814.9L1523.0 815.1L1524.9 815.3L1526.9 815.5L1528.9 815.8L1530.9 816.0L1532.9 816.2L1534.9 816.4L1536.9 816.7L1538.9 816.9L1540.9 817.1L1542.8 817.3L1544.8 817.5L1546.8 817.8L1548.8 818.0L1550.8 818.2L1552.8 818.4L1554.8 818.6L1556.8 818.8L1558.8 819.0L1560.8 819.3L1562.7 819.5L1564.7 819.7L1566.7 819.9L1568.7 820.1L1570.7 820.3L1572.7 820.5L1574.7 820.7L1576.7 820.9L1578.7 821.1L1580.7 821.3L1582.7 821.4L1584.7 821.6L1586.6 821.8L1588.6 822.0L1590.6 822.2L1592.6 822.4L1594.6 822.5L1596.6 822.7L1598.6 822.9L1600.6 823.0L1602.6 823.2L1604.6 823.4L1606.6 823.5L1608.6 823.7L1610.6 823.8L1612.6 824.0L1614.6 824.1L1616.6 824.2L1618.6 824.4L1620.6 824.5L1622.6 824.6L1624.6 824.8L1626.6 824.9L1628.6 825.0L1630.6 825.1L1632.6 825.2L1634.5 825.3L1636.5 825.4L1638.5 825.5L1640.5 825.6L1642.5 825.7L1644.5 825.8L1646.5 825.9L1648.5 826.0L1650.5 826.0L1652.5 826.1L1654.5 826.2L1656.5 826.2L1658.5 826.3L1660.5 826.3L1662.5 826.4L1664.5 826.4L1666.6 826.4L1668.6 826.5L1670.6 826.5L1672.6 826.5L1674.6 826.5L1676.6 826.5L1678.6 826.5L1680.6 826.5L1682.6 826.5L1684.6 826.5L1686.6 826.5L1688.6 826.5L1690.6 826.4L1692.6 826.4L1694.6 826.3L1696.6 826.3" stroke="#dc1030"/>
<path d="M240.5 717.8L242.5 717.9L244.5 718.0L246.5 718.1L248.5 718.2L250.5 718.3L252.5 718.5L254.5 718.6L256.5 718.8L258.5 718.9L260.5 719.1L262.5 719.3L264.5 719.4L266.5 719.6L268.4 719.8L270.4 720.0L272.4 720.2L274.4 720.5L276.4 720.7L278.4 720.9L280.4 721.1L282.4 721.4L284.3 721.6L286.3 721.9L288.3 722.1L290.3 722.4L292.3 722.7L294.3 722.9L296.2 723.2L298.2 723.5L300.2 723.8L302.2 724.1L304.2 724.3L306.1 724.6L308.1 724.9L310.1 725.2L312.1 725.5L314.1 725.8L316.0 726.1L318.0 726.4L320.0 726.7L322.0 727.0L323.9 727.3L325.9 727.6L327.9 727.9L329.9 728.2L331.8 728.5L333.8 728.8L335.8 729.1L337.8 729.4L339.8 729.7L341.7 730.0L343.7 730.3L345.7 730.6L347.7 730.9L349.7 731.2L351.6 731.5L353.6 731.8L355.6 732.0L357.6 732.3L359.6 732.6L361.5 732.8L363.5 733.1L365.5 733.4L367.5 733.6L369.5 733.9L371.5 734.1L373.4 734.3L375.4 734.6L377.4 734.8L379.4 735.0L381.4 735.2L383.4 735.4L385.4 735.6L387.4 735.8L389.4 736.0L391.4 736.1L393.4 736.3L395.3 736.5L397.3 736.6L399.3 736.7L401.3 736.9L403.3 737.0L405.3 737.1L407.3 737.2L409.3 737.3L411.3 737.4L413.3 737.4L415.3 737.5L417.3 737.5L419.3 737.6L421.3 737.6L423.3 737.6L425.3 737.6L427.3 737.6L429.3 737.5L431.3 737.5L433.3 737.4L435.3 737.4L437.3 737.3L439.3 737.2L441.3 737.1L443.3 737.0L445.3 736.8L447.3 736.7L449.3 736.5L451.3 736.3L453.3 736.1L455.3 735.9L457.2 735.7L459.2 735.4L461.2 735.2L463.2 734.9L465.2 734.6L467.2 734.3L469.1 733.9L471.1 733.6L473.1 733.2L475.0 732.8L477.0 732.4L478.9 731.9L480.9 731.5L482.8 730.9L484.7 730.4L486.6 729.8L488.5 729.1L490.4 728.4L492.2 727.6L494.1 726.8L495.9 726.0L497.6 725.0L499.4 724.0L501.0 722.9L502.7 721.8L504.3 720.6L505.8 719.3L507.4 718.0L508.8 716.7L510.3 715.3L511.6 713.8L513.0 712.4L514.3 710.9L515.6 709.3L516.9 707.8L518.1 706.2L519.4 704.7L520.6 703.1L521.8 701.5L523.0 699.9L524.2 698.3L525.4 696.7L526.6 695.1L527.8 693.5L529.0 691.9L530.2 690.3L531.4 688.7L532.6 687.1L533.9 685.5L535.1 684.0L536.4 682.5L537.7 681.0L539.1 679.5L540.5 678.0L541.8 676.6L543.3 675.2L544.7 673.8L546.2 672.5L547.7 671.2L549.3 669.9L550.9 668.7L552.6 667.6L554.2 666.5L556.0 665.5L557.8 664.6L559.6 663.8L561.5 663.2L563.4 662.6L565.4 662.2L567.4 662.0L569.4 661.9L571.3 662.1L573.3 662.4L575.3 662.9L577.2 663.5L579.0 664.3L580.8 665.1L582.6 666.1L584.3 667.1L585.9 668.2L587.6 669.4L589.2 670.6L590.7 671.8L592.3 673.1L593.8 674.5L595.2 675.8L596.7 677.2L598.1 678.6L599.4 680.1L600.8 681.6L602.1 683.1L603.4 684.6L604.6 686.2L605.9 687.8L607.1 689.3L608.3 690.9L609.5 692.6L610.6 694.2L611.8 695.8L612.9 697.5L614.0 699.1L615.1 700.8L616.2 702.5L617.3 704.1L618.4 705.8L619.5 707.5L620.6 709.2L621.6 710.9L622.7 712.6L623.8 714.2L624.9 715.9L626.0 717.6L627.0 719.3L628.1 721.0L629.2 722.6L630.4 724.3L631.5 725.9L632.6 727.6L633.8 729.2L634.9 730.8L636.1 732.5L637.3 734.1L638.6 735.6L639.8 737.2L641.1 738.8L642.4 740.3L643.7 741.8L645.0 743.3L646.3 744.8L647.7 746.2L649.1 747.7L650.5 749.1L651.9 750.5L653.3 751.9L654.8 753.3L656.3 754.6L657.8 756.0L659.3 757.3L660.8 758.6L662.3 759.9L663.9 761.1L665.5 762.4L667.0 763.6L668.7 764.8L670.3 765.9L671.9 767.1L673.5 768.2L675.2 769.4L676.9 770.5L678.6 771.5L680.3 772.6L682.0 773.6L683.7 774.7L685.4 775.7L687.2 776.6L688.9 777.6L690.7 778.5L692.5 779.5L694.2 780.4L696.0 781.2L697.8 782.1L699.6 783.0L701.5 783.8L703.3 784.6L705.1 785.4L707.0 786.2L708.8 786.9L710.7 787.6L712.6 788.4L714.4 789.1L716.3 789.7L718.2 790.4L720.1 791.1L722.0 791.7L723.9 792.3L725.8 792.9L727.7 793.5L729.6 794.1L731.5 794.6L733.5 795.2L735.4 795.7L737.3 796.2L739.3 796.7L741.2 797.2L743.2 797.7L745.1 798.1L747.1 798.6L749.0 799.0L751.0 799.5L752.9 799.9L754.9 800.3L756.8 800.6L758.8 801.0L760.8 801.4L762.7 801.7L764.7 802.1L766.7 802.4L768.7 802.7L770.6 803.0L772.6 803.3L774.6 803.6L776.6 803.9L778.6 804.2L780.5 804.5L782.5 804.7L784.5 805.0L786.5 805.2L788.5 805.4L790.5 805.7L792.5 805.9L794.4 806.1L796.4 806.3L798.4 806.5L800.4 806.7L802.4 806.8L804.4 807.0L806.4 807.2L808.4 807.4L810.4 807.5L812.4 807.7L814.4 807.8L816.4 808.0L818.4 808.1L820.4 808.2L822.4 808.4L824.3 808.5L826.3 808.6L828.3 808.8L830.3 808.9L832.3 809.0L834.3 809.1L836.3 809.3L838.3 809.4L840.3 809.5L842.3 809.6L844.3 809.7L846.3 809.9L848.3 810.0L850.3 810.1L852.3 810.3L854.3 810.4L856.3 810.5L858.3 810.7L860.3 810.8L862.3 810.9L864.3 811.1L866.3 811.2L868.3 811.4L870.3 811.6L872.2 811.7L874.2 811.9L876.2 812.1L878.2 812.3L880.2 812.5L882.2 812.7L884.2 812.9L886.2 813.1L888.2 813.3L890.2 813.5L892.1 813.8L894.1 814.0L896.1 814.3L898.1 814.5L900.1 814.8L902.1 815.1L904.0 815.4L906.0 815.7L908.0 816.0L910.0 816.3L911.9 816.6L913.9 816.9L915.9 817.2L917.9 817.5L919.8 817.8L921.8 818.1L923.8 818.4L925.8 818.7L927.8 819.0L929.7 819.3L931.7 819.6L933.7 819.8L935.7 820.1L937.7 820.3L939.7 820.5L941.7 820.7L943.6 820.9L945.6 821.1L947.6 821.3L949.6 821.4L951.6 821.5L953.6 821.6L955.6 821.7L957.6 821.8L959.6 821.9L961.6 822.0L963.6 822.0L965.6 822.0L967.6 822.0L969.6 822.0L971.6 822.0L973.6 822.0L975.6 821.9L977.6 821.9L979.6 821.8L981.6 821.7L983.6 821.6L985.6 821.5L987.6 821.3L989.6 821.2L991.6 821.0L993.6 820.8L995.6 820.6L997.6 820.4L999.5 820.2L1001.5 820.0L1003.5 819.7L1005.5 819.5L1007.5 819.2L1009.5 818.9L1011.4 818.6L1013.4 818.3L1015.4 818.0L1017.4 817.7L1019.3 817.3L1021.3 816.9L1023.3 816.6L1025.2 816.2L1027.2 815.8L1029.1 815.4L1031.1 814.9L1033.1 814.5L1035.0 814.0L1036.9 813.6L1038.9 813.1L1040.8 812.6L1042.8 812.1L1044.7 811.6L1046.6 811.1L1048.6 810.6L1050.5 810.0L1052.4 809.5L1054.3 808.9L1056.2 808.3L1058.2 807.8L1060.1 807.2L1062.0 806.6L1063.9 805.9L1065.8 805.3L1067.7 804.7L1069.6 804.0L1071.5 803.4L1073.3 802.7L1075.2 802.0L1077.1 801.3L1079.0 800.7L1080.9 799.9L1082.7 799.2L1084.6 798.5L1086.4 797.8L1088.3 797.0L1090.2 796.3L1092.0 795.5L1093.9 794.8L1095.7 794.0L1097.5 793.2L1099.4 792.4L1101.2 791.6L1103.0 790.8L1104.9 790.0L1106.7 789.2L1108.5 788.3L1110.3 787.5L1112.1 786.6L1113.9 785.8L1115.7 784.9L1117.5 784.0L1119.3 783.2L1121.1 782.3L1122.9 781.4L1124.7 780.5L1126.5 779.6L1128.3 778.7L1130.0 777.7L1131.8 776.8L1133.6 775.9L1135.4 774.9L1137.1 774.0L1138.9 773.0L1140.6 772.1L1142.4 771.1L1144.2 770.2L1145.9 769.2L1147.7 768.3L1149.4 767.3L1151.2 766.3L1152.9 765.4L1154.7 764.4L1156.4 763.4L1158.2 762.5L1159.9 761.5L1161.7 760.6L1163.4 759.6L1165.2 758.6L1167.0 757.7L1168.7 756.7L1170.5 755.8L1172.2 754.9L1174.0 753.9L1175.8 753.0L1177.6 752.1L1179.3 751.1L1181.1 750.2L1182.9 749.3L1184.7 748.4L1186.5 747.6L1188.3 746.7L1190.1 745.8L1191.9 745.0L1193.7 744.1L1195.5 743.3L1197.3 742.4L1199.2 741.6L1201.0 740.8L1202.9 740.1L1204.7 739.3L1206.6 738.5L1208.4 737.8L1210.3 737.1L1212.2 736.4L1214.0 735.7L1215.9 735.0L1217.8 734.4L1219.7 733.8L1221.6 733.2L1223.5 732.6L1225.4 732.0L1227.4 731.5L1229.3 730.9L1231.2 730.5L1233.2 730.0L1235.1 729.6L1237.1 729.1L1239.1 728.8L1241.0 728.4L1243.0 728.1L1245.0 727.7L1247.0 727.5L1248.9 727.2L1250.9 727.0L1252.9 726.8L1254.9 726.6L1256.9 726.4L1258.9 726.3L1260.9 726.2L1262.9 726.1L1264.9 726.0L1266.9 726.0L1268.9 725.9L1270.9 725.9L1272.9 725.9L1274.9 726.0L1276.9 726.0L1278.9 726.1L1280.9 726.2L1282.9 726.3L1284.9 726.4L1286.9 726.5L1288.9 726.6L1290.9 726.8L1292.9 727.0L1294.9 727.2L1296.8 727.4L1298.8 727.6L1300.8 727.8L1302.8 728.1L1304.8 728.3L1306.8 728.6L1308.7 728.9L1310.7 729.2L1312.7 729.5L1314.7 729.8L1316.7 730.1L1318.6 730.5L1320.6 730.8L1322.6 731.2L1324.5 731.5L1326.5 731.9L1328.5 732.3L1330.4 732.7L1332.4 733.1L1334.3 733.5L1336.3 733.9L1338.3 734.3L1340.2 734.7L1342.2 735.1L1344.1 735.6L1346.1 736.0L1348.0 736.4L1350.0 736.9L1351.9 737.4L1353.9 737.8L1355.8 738.3L1357.8 738.8L1359.7 739.2L1361.6 739.7L1363.6 740.2L1365.5 740.7L1367.5 741.2L1369.4 741.7L1371.3 742.2L1373.3 742.7L1375.2 743.2L1377.1 743.7L1379.1 744.3L1381.0 744.8L1382.9 745.3L1384.8 745.9L1386.8 746.4L1388.7 746.9L1390.6 747.5L1392.5 748.0L1394.5 748.6L1396.4 749.1L1398.3 749.7L1400.2 750.3L1402.1 750.8L1404.1 751.4L1406.0 752.0L1407.9 752.6L1409.8 753.1L1411.7 753.7L1413.6 754.3L1415.5 754.9L1417.5 755.5L1419.4 756.1L1421.3 756.7L1423.2 757.3L1425.1 757.9L1427.0 758.5L1428.9 759.1L1430.8 759.7L1432.7 760.3L1434.6 760.9L1436.5 761.5L1438.4 762.1L1440.3 762.7L1442.2 763.3L1444.2 763.9L1446.1 764.6L1448.0 765.2L1449.9 765.8L1451.8 766.4L1453.7 767.0L1455.6 767.6L1457.5 768.3L1459.4 768.9L1461.3 769.5L1463.2 770.1L1465.1 770.7L1467.0 771.4L1468.9 772.0L1470.8 772.6L1472.7 773.2L1474.6 773.8L1476.5 774.5L1478.4 775.1L1480.3 775.7L1482.2 776.3L1484.1 776.9L1486.0 777.5L1487.9 778.2L1489.8 778.8L1491.7 779.4L1493.6 780.0L1495.5 780.6L1497.4 781.2L1499.3 781.8L1501.2 782.4L1503.2 783.0L1505.1 783.6L1507.0 784.2L1508.9 784.8L1510.8 785.4L1512.7 786.0L1514.6 786.6L1516.5 787.2L1518.4 787.7L1520.4 788.3L1522.3 788.9L1524.2 789.5L1526.1 790.1L1528.0 790.6L1529.9 791.2L1531.9 791.7L1533.8 792.3L1535.7 792.9L1537.6 793.4L1539.5 794.0L1541.5 794.5L1543.4 795.0L1545.3 795.6L1547.3 796.1L1549.2 796.6L1551.1 797.2L1553.0 797.7L1555.0 798.2L1556.9 798.7L1558.8 799.2L1560.8 799.7L1562.7 800.2L1564.7 800.7L1566.6 801.2L1568.5 801.7L1570.5 802.1L1572.4 802.6L1574.4 803.1L1576.3 803.5L1578.3 804.0L1580.2 804.4L1582.2 804.9L1584.1 805.3L1586.1 805.7L1588.0 806.1L1590.0 806.6L1592.0 807.0L1593.9 807.4L1595.9 807.8L1597.8 808.1L1599.8 808.5L1601.8 808.9L1603.7 809.3L1605.7 809.6L1607.7 810.0L1609.6 810.3L1611.6 810.7L1613.6 811.0L1615.6 811.3L1617.5 811.6L1619.5 811.9L1621.5 812.2L1623.5 812.5L1625.4 812.8L1627.4 813.1L1629.4 813.4L1631.4 813.6L1633.4 813.9L1635.4 814.1L1637.3 814.4L1639.3 814.6L1641.3 814.8L1643.3 815.0L1645.3 815.2L1647.3 815.4L1649.3 815.6L1651.3 815.8L1653.3 815.9L1655.3 816.1L1657.3 816.2L1659.3 816.4L1661.3 816.5L1663.2 816.6L1665.2 816.7L1667.2 816.8L1669.2 816.9L1671.2 817.0L1673.2 817.0L1675.2 817.1L1677.2 817.1L1679.2 817.2L1681.2 817.2L1683.2 817.2L1685.2 817.2L1687.2 817.2L1689.2 817.2L1691.2 817.2L1693.2 817.2L1695.2 817.1L1697.2 817.1" stroke="#1c16d4"/>
<path d="M240.3 717.5L242.3 717.7L244.3 717.9L246.3 718.1L248.3 718.3L250.3 718.5L252.3 718.7L254.3 718.9L256.2 719.1L258.2 719.3L260.2 719.5L262.2 719.7L264.2 719.9L266.2 720.2L268.2 720.4L270.2 720.6L272.2 720.8L274.1 721.1L276.1 721.3L278.1 721.5L280.1 721.8L282.1 722.0L284.1 722.2L286.1 722.5L288.0 722.7L290.0 723.0L292.0 723.2L294.0 723.5L296.0 723.7L298.0 724.0L300.0 724.2L301.9 724.5L303.9 724.7L305.9 725.0L307.9 725.2L309.9 725.5L311.9 725.7L313.8 726.0L315.8 726.2L317.8 726.5L319.8 726.7L321.8 727.0L323.8 727.3L325.8 727.5L327.7 727.8L329.7 728.0L331.7 728.3L333.7 728.5L335.7 728.8L337.7 729.0L339.6 729.3L341.6 729.5L343.6 729.8L345.6 730.0L347.6 730.3L349.6 730.5L351.6 730.8L353.5 731.0L355.5 731.3L357.5 731.5L359.5 731.7L361.5 732.0L363.5 732.2L365.5 732.5L367.4 732.7L369.4 732.9L371.4 733.1L373.4 733.4L375.4 733.6L377.4 733.8L379.4 734.0L381.4 734.2L383.4 734.5L385.3 734.7L387.3 734.9L389.3 735.1L391.3 735.3L393.3 735.5L395.3 735.7L397.3 735.9L399.3 736.1L401.3 736.2L403.3 736.4L405.3 736.6L407.2 736.8L409.2 737.0L411.2 737.1L413.2 737.3L415.2 737.4L417.2 737.6L419.2 737.7L421.2 737.8L423.2 738.0L425.2 738.1L427.2 738.2L429.2 738.3L431.2 738.3L433.2 738.4L435.2 738.5L437.2 738.5L439.2 738.5L441.2 738.5L443.2 738.5L445.2 738.5L447.2 738.5L449.2 738.4L451.2 738.3L453.2 738.3L455.2 738.1L457.2 738.0L459.2 737.8L461.2 737.7L463.2 737.5L465.2 737.2L467.1 737.0L469.1 736.7L471.1 736.4L473.1 736.1L475.0 735.7L477.0 735.3L479.0 734.9L480.9 734.4L482.8 733.9L484.8 733.4L486.7 732.8L488.6 732.2L490.5 731.6L492.4 730.9L494.2 730.1L496.1 729.4L497.9 728.6L499.7 727.7L501.5 726.8L503.3 725.9L505.0 724.9L506.7 723.9L508.4 722.8L510.1 721.7L511.7 720.5L513.3 719.4L514.9 718.1L516.5 716.9L518.0 715.6L519.5 714.2L520.9 712.8L522.4 711.5L523.8 710.0L525.2 708.6L526.6 707.2L527.9 705.7L529.3 704.3L530.7 702.8L532.0 701.3L533.4 699.9L534.8 698.4L536.2 697.0L537.6 695.5L539.0 694.1L540.4 692.7L541.9 691.4L543.4 690.0L544.9 688.7L546.4 687.5L548.0 686.3L549.7 685.1L551.4 684.1L553.1 683.1L554.9 682.2L556.8 681.5L558.7 680.9L560.6 680.4L562.6 680.1L564.6 679.9L566.6 679.8L568.6 679.9L570.6 680.1L572.6 680.4L574.5 680.9L576.4 681.5L578.3 682.2L580.1 683.0L581.9 683.8L583.7 684.8L585.4 685.9L587.0 687.1L588.6 688.3L590.1 689.6L591.6 690.9L593.0 692.4L594.4 693.8L595.7 695.3L597.0 696.8L598.3 698.3L599.6 699.9L600.8 701.4L602.0 703.0L603.3 704.6L604.5 706.2L605.7 707.8L606.9 709.4L608.1 711.0L609.3 712.6L610.5 714.2L611.7 715.8L613.0 717.3L614.2 718.9L615.5 720.4L616.8 722.0L618.1 723.5L619.4 725.0L620.7 726.5L622.0 728.0L623.3 729.5L624.7 731.0L626.0 732.5L627.4 734.0L628.7 735.4L630.1 736.9L631.5 738.3L632.9 739.7L634.3 741.2L635.7 742.6L637.2 744.0L638.6 745.3L640.1 746.7L641.5 748.1L643.0 749.4L644.5 750.8L646.0 752.1L647.5 753.4L649.0 754.7L650.6 756.0L652.1 757.3L653.6 758.6L655.2 759.8L656.8 761.0L658.3 762.3L659.9 763.5L661.5 764.7L663.1 765.9L664.8 767.1L666.4 768.2L668.0 769.4L669.7 770.5L671.3 771.6L673.0 772.7L674.7 773.8L676.4 774.9L678.1 776.0L679.8 777.0L681.5 778.0L683.2 779.1L684.9 780.1L686.7 781.1L688.4 782.0L690.2 783.0L691.9 783.9L693.7 784.9L695.5 785.8L697.3 786.7L699.1 787.5L700.9 788.4L702.7 789.2L704.5 790.1L706.4 790.9L708.2 791.7L710.0 792.4L711.9 793.2L713.7 793.9L715.6 794.7L717.5 795.4L719.4 796.1L721.2 796.7L723.1 797.4L725.0 798.0L726.9 798.6L728.8 799.2L730.8 799.8L732.7 800.4L734.6 800.9L736.5 801.5L738.5 802.0L740.4 802.5L742.3 803.0L744.3 803.4L746.2 803.8L748.2 804.3L750.2 804.7L752.1 805.1L754.1 805.4L756.1 805.8L758.0 806.1L760.0 806.5L762.0 806.8L764.0 807.1L765.9 807.4L767.9 807.6L769.9 807.9L771.9 808.1L773.9 808.4L775.9 808.6L777.9 808.8L779.8 809.0L781.8 809.2L783.8 809.4L785.8 809.6L787.8 809.8L789.8 809.9L791.8 810.1L793.8 810.2L795.8 810.4L797.8 810.5L799.8 810.6L801.8 810.8L803.8 810.9L805.8 811.0L807.8 811.1L809.8 811.2L811.8 811.3L813.8 811.4L815.8 811.5L817.8 811.6L819.8 811.7L821.8 811.8L823.8 811.9L825.8 812.0L827.8 812.1L829.7 812.2L831.7 812.3L833.7 812.4L835.7 812.5L837.7 812.6L839.7 812.7L841.7 812.8L843.7 812.9L845.7 813.0L847.7 813.1L849.7 813.2L851.7 813.3L853.7 813.5L855.7 813.6L857.7 813.7L859.7 813.8L861.7 814.0L863.7 814.1L865.7 814.2L867.7 814.3L869.7 814.5L871.7 814.6L873.7 814.7L875.7 814.9L877.7 815.0L879.7 815.1L881.7 815.2L883.7 815.3L885.7 815.5L887.7 815.6L889.7 815.7L891.7 815.8L893.7 815.9L895.7 816.0L897.7 816.1L899.7 816.2L901.7 816.3L903.7 816.4L905.7 816.5L907.6 816.6L909.6 816.6L911.6 816.7L913.6 816.8L915.6 816.8L917.6 816.9L919.6 816.9L921.6 816.9L923.6 817.0L925.6 817.0L927.6 817.0L929.7 817.0L931.7 817.0L933.7 817.0L935.7 817.0L937.7 816.9L939.7 816.9L941.7 816.9L943.7 816.8L945.7 816.8L947.7 816.7L949.7 816.6L951.6 816.5L953.6 816.4L955.6 816.3L957.6 816.2L959.6 816.0L961.6 815.9L963.6 815.7L965.6 815.6L967.6 815.4L969.6 815.2L971.6 815.0L973.6 814.8L975.6 814.6L977.6 814.4L979.6 814.2L981.5 813.9L983.5 813.6L985.5 813.4L987.5 813.1L989.5 812.8L991.4 812.5L993.4 812.2L995.4 811.8L997.4 811.5L999.3 811.1L1001.3 810.8L1003.3 810.4L1005.2 810.0L1007.2 809.6L1009.1 809.2L1011.1 808.7L1013.0 808.3L1015.0 807.8L1016.9 807.3L1018.9 806.8L1020.8 806.3L1022.7 805.8L1024.7 805.3L1026.6 804.7L1028.5 804.2L1030.4 803.6L1032.3 803.0L1034.2 802.4L1036.1 801.7L1038.0 801.1L1039.9 800.4L1041.8 799.7L1043.7 799.0L1045.5 798.3L1047.4 797.6L1049.2 796.8L1051.1 796.1L1052.9 795.3L1054.8 794.5L1056.6 793.6L1058.4 792.8L1060.2 791.9L1062.0 791.0L1063.8 790.1L1065.5 789.2L1067.3 788.2L1069.1 787.3L1070.8 786.3L1072.5 785.3L1074.2 784.3L1076.0 783.2L1077.6 782.2L1079.3 781.1L1081.0 780.0L1082.7 778.9L1084.3 777.8L1086.0 776.6L1087.6 775.5L1089.2 774.3L1090.8 773.1L1092.4 771.9L1094.0 770.7L1095.6 769.4L1097.2 768.2L1098.7 766.9L1100.3 765.7L1101.8 764.4L1103.3 763.1L1104.8 761.8L1106.3 760.5L1107.8 759.1L1109.3 757.8L1110.8 756.4L1112.3 755.1L1113.7 753.7L1115.2 752.3L1116.6 750.9L1118.0 749.5L1119.4 748.1L1120.9 746.7L1122.3 745.3L1123.7 743.9L1125.0 742.4L1126.4 741.0L1127.8 739.5L1129.2 738.0L1130.5 736.6L1131.9 735.1L1133.2 733.6L1134.5 732.1L1135.9 730.6L1137.2 729.1L1138.5 727.6L1139.8 726.1L1141.1 724.6L1142.4 723.1L1143.7 721.6L1145.0 720.0L1146.3 718.5L1147.6 717.0L1148.9 715.4L1150.2 713.9L1151.4 712.3L1152.7 710.8L1154.0 709.2L1155.2 707.7L1156.5 706.1L1157.7 704.6L1159.0 703.0L1160.2 701.4L1161.5 699.9L1162.7 698.3L1164.0 696.7L1165.2 695.2L1166.4 693.6L1167.7 692.0L1168.9 690.5L1170.2 688.9L1171.4 687.3L1172.6 685.7L1173.9 684.2L1175.1 682.6L1176.3 681.0L1177.6 679.5L1178.8 677.9L1180.0 676.3L1181.3 674.7L1182.5 673.2L1183.8 671.6L1185.0 670.0L1186.3 668.5L1187.5 666.9L1188.8 665.3L1190.0 663.8L1191.3 662.2L1192.5 660.7L1193.8 659.1L1195.0 657.6L1196.3 656.0L1197.6 654.5L1198.9 652.9L1200.1 651.4L1201.4 649.9L1202.7 648.3L1204.0 646.8L1205.3 645.3L1206.6 643.8L1207.9 642.3L1209.3 640.8L1210.6 639.3L1212.0 637.8L1213.3 636.3L1214.7 634.9L1216.1 633.5L1217.5 632.0L1218.9 630.6L1220.3 629.2L1221.8 627.8L1223.2 626.4L1224.7 625.1L1226.2 623.8L1227.7 622.4L1229.2 621.2L1230.8 619.9L1232.3 618.6L1233.9 617.4L1235.5 616.2L1237.1 615.1L1238.8 613.9L1240.5 612.8L1242.1 611.7L1243.9 610.7L1245.6 609.7L1247.3 608.7L1249.1 607.8L1250.9 606.9L1252.7 606.0L1254.5 605.2L1256.4 604.5L1258.2 603.7L1260.1 603.1L1262.0 602.4L1263.9 601.8L1265.9 601.3L1267.8 600.8L1269.7 600.3L1271.7 599.9L1273.7 599.5L1275.6 599.2L1277.6 598.9L1279.6 598.7L1281.6 598.4L1283.6 598.3L1285.6 598.1L1287.6 598.0L1289.6 597.9L1291.6 597.9L1293.6 597.9L1295.6 597.9L1297.6 598.0L1299.6 598.1L1301.6 598.3L1303.6 598.4L1305.6 598.6L1307.5 598.9L1309.5 599.2L1311.5 599.5L1313.5 599.8L1315.4 600.2L1317.4 600.6L1319.4 601.0L1321.3 601.5L1323.2 602.0L1325.2 602.5L1327.1 603.1L1329.0 603.7L1330.9 604.3L1332.8 604.9L1334.7 605.6L1336.5 606.4L1338.4 607.1L1340.2 607.9L1342.0 608.7L1343.9 609.5L1345.7 610.4L1347.5 611.3L1349.2 612.2L1351.0 613.1L1352.8 614.1L1354.5 615.0L1356.3 616.0L1358.0 617.0L1359.7 618.0L1361.4 619.1L1363.1 620.1L1364.8 621.2L1366.5 622.3L1368.2 623.4L1369.9 624.5L1371.5 625.6L1373.2 626.7L1374.8 627.8L1376.5 629.0L1378.1 630.1L1379.8 631.3L1381.4 632.4L1383.0 633.6L1384.6 634.8L1386.2 636.0L1387.8 637.2L1389.4 638.4L1391.0 639.6L1392.6 640.9L1394.1 642.1L1395.7 643.3L1397.3 644.6L1398.8 645.8L1400.4 647.1L1401.9 648.3L1403.5 649.6L1405.0 650.9L1406.6 652.2L1408.1 653.5L1409.6 654.7L1411.2 656.0L1412.7 657.3L1414.2 658.6L1415.7 660.0L1417.2 661.3L1418.7 662.6L1420.2 663.9L1421.7 665.2L1423.2 666.5L1424.7 667.9L1426.2 669.2L1427.7 670.5L1429.2 671.8L1430.7 673.2L1432.2 674.5L1433.7 675.9L1435.2 677.2L1436.7 678.5L1438.2 679.9L1439.6 681.2L1441.1 682.6L1442.6 683.9L1444.1 685.2L1445.6 686.6L1447.1 687.9L1448.6 689.3L1450.0 690.6L1451.5 691.9L1453.0 693.3L1454.5 694.6L1456.0 695.9L1457.5 697.3L1459.0 698.6L1460.5 699.9L1462.0 701.3L1463.5 702.6L1465.0 703.9L1466.5 705.2L1468.0 706.5L1469.5 707.8L1471.0 709.1L1472.5 710.4L1474.1 711.7L1475.6 713.0L1477.1 714.3L1478.7 715.6L1480.2 716.9L1481.7 718.2L1483.3 719.4L1484.8 720.7L1486.4 722.0L1488.0 723.2L1489.5 724.5L1491.1 725.7L1492.7 726.9L1494.2 728.1L1495.8 729.4L1497.4 730.6L1499.0 731.8L1500.6 733.0L1502.2 734.2L1503.9 735.3L1505.5 736.5L1507.1 737.7L1508.8 738.8L1510.4 739.9L1512.0 741.1L1513.7 742.2L1515.4 743.3L1517.0 744.4L1518.7 745.5L1520.4 746.6L1522.1 747.6L1523.8 748.7L1525.5 749.7L1527.2 750.8L1529.0 751.8L1530.7 752.8L1532.4 753.8L1534.2 754.7L1535.9 755.7L1537.7 756.7L1539.4 757.6L1541.2 758.6L1543.0 759.5L1544.8 760.4L1546.5 761.3L1548.3 762.2L1550.1 763.1L1551.9 764.0L1553.7 764.8L1555.5 765.7L1557.4 766.5L1559.2 767.3L1561.0 768.1L1562.8 768.9L1564.7 769.7L1566.5 770.5L1568.4 771.3L1570.2 772.1L1572.1 772.8L1573.9 773.6L1575.8 774.3L1577.7 775.0L1579.5 775.7L1581.4 776.4L1583.3 777.1L1585.2 777.8L1587.0 778.5L1588.9 779.1L1590.8 779.8L1592.7 780.4L1594.6 781.0L1596.5 781.7L1598.4 782.3L1600.3 782.9L1602.2 783.5L1604.2 784.0L1606.1 784.6L1608.0 785.2L1609.9 785.7L1611.8 786.3L1613.8 786.8L1615.7 787.3L1617.6 787.9L1619.6 788.4L1621.5 788.9L1623.4 789.4L1625.4 789.8L1627.3 790.3L1629.3 790.8L1631.2 791.2L1633.2 791.7L1635.1 792.1L1637.1 792.5L1639.0 793.0L1641.0 793.4L1643.0 793.8L1644.9 794.2L1646.9 794.5L1648.8 794.9L1650.8 795.3L1652.8 795.7L1654.7 796.0L1656.7 796.3L1658.7 796.7L1660.7 797.0L1662.6 797.3L1664.6 797.6L1666.6 797.9L1668.6 798.2L1670.6 798.5L1672.5 798.8L1674.5 799.1L1676.5 799.3L1678.5 799.6L1680.5 799.8L1682.5 800.1L1684.4 800.3L1686.4 800.5L1688.4 800.7L1690.4 800.9L1692.4 801.1L1694.4 801.3L1696.4 801.5" stroke="#9024b0"/>
<path d="M240.5 717.8L242.5 717.8L244.5 717.9L246.5 718.0L248.5 718.1L250.5 718.3L252.5 718.4L254.5 718.5L256.5 718.7L258.5 718.8L260.5 719.0L262.5 719.2L264.5 719.4L266.5 719.6L268.5 719.8L270.4 720.0L272.4 720.2L274.4 720.5L276.4 720.7L278.4 721.0L280.4 721.2L282.4 721.5L284.4 721.7L286.3 722.0L288.3 722.3L290.3 722.5L292.3 722.8L294.3 723.1L296.2 723.4L298.2 723.7L300.2 724.0L302.2 724.3L304.2 724.6L306.1 724.9L308.1 725.2L310.1 725.5L312.1 725.8L314.1 726.1L316.0 726.4L318.0 726.7L320.0 727.0L322.0 727.3L323.9 727.6L325.9 727.9L327.9 728.2L329.9 728.5L331.9 728.8L333.8 729.1L335.8 729.4L337.8 729.6L339.8 729.9L341.8 730.2L343.8 730.5L345.7 730.7L347.7 731.0L349.7 731.2L351.7 731.5L353.7 731.7L355.7 731.9L357.7 732.2L359.6 732.4L361.6 732.6L363.6 732.8L365.6 733.0L367.6 733.2L369.6 733.4L371.6 733.5L373.6 733.7L375.6 733.9L377.6 734.0L379.6 734.2L381.6 734.4L383.6 734.5L385.6 734.7L387.6 734.8L389.6 735.0L391.5 735.1L393.5 735.3L395.5 735.5L397.5 735.6L399.5 735.8L401.5 736.0L403.5 736.1L405.5 736.3L407.5 736.5L409.5 736.7L411.5 736.9L413.5 737.1L415.5 737.3L417.5 737.6L419.4 737.8L421.4 738.1L423.4 738.3L425.4 738.6L427.4 738.9L429.4 739.2L431.3 739.5L433.3 739.8L435.3 740.1L437.3 740.4L439.2 740.7L441.2 741.0L443.2 741.3L445.2 741.6L447.2 741.9L449.1 742.2L451.1 742.5L453.1 742.8L455.1 743.0L457.1 743.3L459.1 743.5L461.0 743.7L463.0 743.9L465.0 744.1L467.0 744.2L469.0 744.3L471.0 744.4L473.0 744.4L475.0 744.5L477.0 744.5L479.0 744.4L481.0 744.3L483.0 744.2L485.0 744.0L487.0 743.8L489.0 743.5L491.0 743.2L492.9 742.9L494.9 742.4L496.8 742.0L498.8 741.5L500.7 740.9L502.6 740.4L504.5 739.8L506.4 739.1L508.3 738.5L510.2 737.8L512.1 737.1L513.9 736.4L515.8 735.6L517.7 734.9L519.5 734.1L521.4 733.4L523.2 732.6L525.1 731.9L526.9 731.1L528.8 730.4L530.7 729.7L532.5 728.9L534.4 728.2L536.3 727.6L538.2 726.9L540.1 726.3L542.0 725.7L543.9 725.2L545.9 724.8L547.9 724.5L549.9 724.5L551.9 724.6L553.8 725.0L555.7 725.6L557.6 726.3L559.4 727.3L561.1 728.3L562.8 729.4L564.4 730.5L566.0 731.7L567.6 732.9L569.2 734.2L570.7 735.4L572.3 736.6L573.9 737.9L575.5 739.1L577.0 740.3L578.6 741.6L580.2 742.8L581.8 744.0L583.4 745.2L585.0 746.4L586.6 747.6L588.2 748.8L589.8 750.0L591.4 751.2L593.1 752.3L594.7 753.5L596.4 754.6L598.0 755.7L599.7 756.8L601.4 757.8L603.1 758.9L604.8 759.9L606.6 760.9L608.3 761.9L610.1 762.8L611.9 763.7L613.7 764.6L615.5 765.5L617.3 766.4L619.1 767.2L620.9 768.1L622.7 768.9L624.5 769.7L626.4 770.5L628.2 771.3L630.0 772.1L631.9 772.9L633.7 773.7L635.6 774.5L637.4 775.3L639.2 776.1L641.1 776.9L642.9 777.7L644.7 778.5L646.5 779.3L648.4 780.2L650.2 781.0L652.0 781.9L653.8 782.7L655.6 783.6L657.4 784.5L659.2 785.4L661.0 786.3L662.8 787.2L664.5 788.1L666.3 789.0L668.1 789.8L669.9 790.7L671.7 791.6L673.6 792.4L675.4 793.3L677.2 794.1L679.0 794.9L680.9 795.7L682.7 796.5L684.6 797.2L686.4 798.0L688.3 798.7L690.2 799.3L692.1 800.0L694.0 800.6L695.9 801.1L697.8 801.7L699.8 802.2L701.7 802.6L703.7 803.1L705.6 803.5L707.6 803.8L709.6 804.2L711.6 804.5L713.5 804.8L715.5 805.0L717.5 805.3L719.5 805.5L721.5 805.7L723.5 805.9L725.5 806.1L727.5 806.2L729.5 806.4L731.5 806.5L733.5 806.6L735.5 806.8L737.4 806.9L739.4 807.0L741.4 807.1L743.4 807.2L745.4 807.4L747.4 807.5L749.4 807.6L751.4 807.7L753.4 807.9L755.4 808.0L757.4 808.1L759.4 808.2L761.4 808.4L763.4 808.5L765.4 808.6L767.4 808.8L769.4 808.9L771.4 809.1L773.4 809.2L775.4 809.3L777.4 809.5L779.4 809.6L781.4 809.8L783.4 809.9L785.4 810.0L787.4 810.2L789.4 810.3L791.4 810.4L793.4 810.6L795.4 810.7L797.4 810.8L799.4 811.0L801.4 811.1L803.4 811.2L805.3 811.3L807.3 811.5L809.3 811.6L811.3 811.7L813.3 811.8L815.3 811.9L817.3 812.0L819.3 812.1L821.3 812.2L823.3 812.3L825.3 812.4L827.3 812.5L829.3 812.6L831.3 812.7L833.3 812.8L835.3 812.9L837.3 812.9L839.3 813.0L841.3 813.1L843.3 813.1L845.3 813.2L847.3 813.2L849.3 813.3L851.3 813.3L853.3 813.3L855.3 813.4L857.3 813.4L859.3 813.4L861.3 813.4L863.3 813.4L865.3 813.4L867.3 813.4L869.3 813.4L871.3 813.3L873.3 813.3L875.3 813.3L877.3 813.2L879.3 813.2L881.3 813.1L883.3 813.0L885.3 813.0L887.3 812.9L889.3 812.8L891.3 812.7L893.3 812.6L895.3 812.4L897.3 812.3L899.3 812.2L901.3 812.0L903.3 811.9L905.3 811.7L907.3 811.5L909.3 811.3L911.3 811.2L913.3 811.0L915.3 810.7L917.3 810.5L919.3 810.3L921.2 810.0L923.2 809.8L925.2 809.5L927.2 809.2L929.2 808.9L931.2 808.6L933.1 808.3L935.1 808.0L937.1 807.7L939.0 807.3L941.0 807.0L943.0 806.6L944.9 806.2L946.9 805.8L948.9 805.4L950.8 805.0L952.8 804.5L954.7 804.1L956.7 803.6L958.6 803.2L960.6 802.7L962.5 802.2L964.4 801.7L966.4 801.1L968.3 800.6L970.2 800.1L972.1 799.5L974.1 798.9L976.0 798.3L977.9 797.7L979.8 797.1L981.7 796.5L983.6 795.8L985.5 795.2L987.3 794.5L989.2 793.8L991.1 793.1L993.0 792.4L994.8 791.7L996.7 790.9L998.5 790.2L1000.4 789.4L1002.2 788.6L1004.1 787.8L1005.9 787.0L1007.7 786.2L1009.5 785.3L1011.4 784.5L1013.2 783.6L1015.0 782.8L1016.8 781.9L1018.5 781.0L1020.3 780.0L1022.1 779.1L1023.8 778.1L1025.6 777.2L1027.3 776.2L1029.1 775.2L1030.8 774.2L1032.5 773.2L1034.2 772.2L1036.0 771.1L1037.6 770.0L1039.3 769.0L1041.0 767.9L1042.7 766.8L1044.3 765.6L1046.0 764.5L1047.6 763.4L1049.2 762.2L1050.9 761.0L1052.5 759.8L1054.1 758.6L1055.6 757.4L1057.2 756.1L1058.8 754.9L1060.3 753.6L1061.9 752.3L1063.4 751.0L1064.9 749.7L1066.4 748.4L1067.9 747.0L1069.3 745.7L1070.8 744.3L1072.2 742.9L1073.7 741.5L1075.1 740.1L1076.5 738.7L1077.8 737.2L1079.2 735.7L1080.6 734.3L1081.9 732.8L1083.2 731.3L1084.5 729.7L1085.8 728.2L1087.1 726.7L1088.3 725.1L1089.5 723.5L1090.7 721.9L1091.9 720.3L1093.1 718.7L1094.3 717.1L1095.4 715.4L1096.5 713.8L1097.7 712.1L1098.8 710.4L1099.8 708.8L1100.9 707.1L1102.0 705.4L1103.0 703.6L1104.0 701.9L1105.0 700.2L1106.0 698.5L1107.0 696.7L1107.9 695.0L1108.9 693.2L1109.8 691.4L1110.8 689.6L1111.7 687.9L1112.6 686.1L1113.5 684.3L1114.3 682.5L1115.2 680.7L1116.1 678.9L1116.9 677.1L1117.7 675.2L1118.6 673.4L1119.4 671.6L1120.2 669.8L1121.0 667.9L1121.7 666.1L1122.5 664.2L1123.3 662.4L1124.0 660.5L1124.8 658.7L1125.5 656.8L1126.3 655.0L1127.0 653.1L1127.7 651.2L1128.4 649.4L1129.2 647.5L1129.9 645.6L1130.6 643.7L1131.2 641.9L1131.9 640.0L1132.6 638.1L1133.3 636.2L1134.0 634.3L1134.6 632.4L1135.3 630.5L1136.0 628.7L1136.6 626.8L1137.3 624.9L1137.9 623.0L1138.6 621.1L1139.2 619.2L1139.9 617.3L1140.5 615.4L1141.2 613.5L1141.8 611.6L1142.4 609.7L1143.1 607.8L1143.7 605.9L1144.4 604.0L1145.0 602.1L1145.6 600.2L1146.3 598.3L1146.9 596.5L1147.6 594.6L1148.2 592.7L1148.8 590.8L1149.5 588.9L1150.1 587.0L1150.8 585.1L1151.4 583.2L1152.0 581.3L1152.7 579.4L1153.3 577.5L1153.9 575.6L1154.6 573.7L1155.2 571.8L1155.8 569.9L1156.4 568.0L1157.1 566.1L1157.7 564.2L1158.3 562.3L1158.9 560.4L1159.5 558.5L1160.2 556.6L1160.8 554.7L1161.4 552.8L1162.0 550.8L1162.6 548.9L1163.2 547.0L1163.8 545.1L1164.4 543.2L1165.0 541.3L1165.6 539.4L1166.2 537.5L1166.8 535.6L1167.3 533.6L1167.9 531.7L1168.5 529.8L1169.1 527.9L1169.6 526.0L1170.2 524.1L1170.8 522.1L1171.3 520.2L1171.9 518.3L1172.4 516.4L1173.0 514.5L1173.6 512.5L1174.1 510.6L1174.6 508.7L1175.2 506.8L1175.7 504.8L1176.3 502.9L1176.8 501.0L1177.3 499.0L1177.9 497.1L1178.4 495.2L1178.9 493.2L1179.4 491.3L1180.0 489.4L1180.5 487.5L1181.0 485.5L1181.5 483.6L1182.0 481.7L1182.6 479.7L1183.1 477.8L1183.6 475.9L1184.1 473.9L1184.6 472.0L1185.1 470.0L1185.6 468.1L1186.1 466.2L1186.6 464.2L1187.1 462.3L1187.6 460.4L1188.1 458.4L1188.6 456.5L1189.1 454.5L1189.6 452.6L1190.1 450.7L1190.6 448.7L1191.1 446.8L1191.6 444.9L1192.1 442.9L1192.6 441.0L1193.1 439.0L1193.6 437.1L1194.1 435.2L1194.6 433.2L1195.1 431.3L1195.6 429.4L1196.1 427.4L1196.6 425.5L1197.1 423.5L1197.6 421.6L1198.1 419.7L1198.6 417.7L1199.1 415.8L1199.6 413.8L1200.1 411.9L1200.6 410.0L1201.0 408.0L1201.5 406.1L1202.0 404.1L1202.5 402.2L1203.0 400.3L1203.5 398.3L1204.0 396.4L1204.5 394.4L1205.0 392.5L1205.5 390.6L1206.0 388.6L1206.4 386.7L1206.9 384.7L1207.4 382.8L1207.9 380.9L1208.4 378.9L1208.9 377.0L1209.4 375.0L1209.9 373.1L1210.3 371.1L1210.8 369.2L1211.3 367.3L1211.8 365.3L1212.3 363.4L1212.8 361.4L1213.3 359.5L1213.7 357.6L1214.2 355.6L1214.7 353.7L1215.2 351.7L1215.7 349.8L1216.2 347.8L1216.7 345.9L1217.1 344.0L1217.6 342.0L1218.1 340.1L1218.6 338.1L1219.1 336.2L1219.6 334.3L1220.0 332.3L1220.5 330.4L1221.0 328.4L1221.5 326.5L1222.0 324.5L1222.5 322.6L1222.9 320.7L1223.4 318.7L1223.9 316.8L1224.4 314.8L1224.9 312.9L1225.4 310.9L1225.8 309.0L1226.3 307.1L1226.8 305.1L1227.3 303.2L1227.8 301.2L1228.3 299.3L1228.7 297.4L1229.2 295.4L1229.7 293.5L1230.2 291.5L1230.7 289.6L1231.2 287.6L1231.7 285.7L1232.1 283.8L1232.6 281.8L1233.1 279.9L1233.6 277.9L1234.1 276.0L1234.6 274.1L1235.1 272.1L1235.6 270.2L1236.1 268.2L1236.6 266.3L1237.1 264.4L1237.6 262.4L1238.1 260.5L1238.6 258.6L1239.1 256.6L1239.6 254.7L1240.1 252.7L1240.6 250.8L1241.1 248.9L1241.6 246.9L1242.2 245.0L1242.7 243.1L1243.2 241.1L1243.7 239.2L1244.3 237.3L1244.8 235.4L1245.3 233.4L1245.9 231.5L1246.4 229.6L1246.9 227.6L1247.5 225.7L1248.0 223.8L1248.6 221.9L1249.1 219.9L1249.7 218.0L1250.2 216.1L1250.8 214.2L1251.4 212.3L1251.9 210.3L1252.5 208.4L1253.1 206.5L1253.7 204.6L1254.2 202.7L1254.8 200.8L1255.4 198.9L1256.0 196.9L1256.6 195.0L1257.2 193.1L1257.8 191.2L1258.4 189.3L1259.1 187.4L1259.7 185.5L1260.3 183.6L1260.9 181.7L1261.6 179.8L1262.2 177.9L1262.8 176.0L1263.5 174.1L1264.1 172.2L1264.8 170.3L1265.4 168.4L1266.1 166.6L1266.8 164.7L1267.5 162.8L1268.1 160.9L1268.8 159.0L1269.5 157.1L1270.2 155.3L1270.9 153.4L1271.6 151.5L1272.3 149.7L1273.1 147.8L1273.8 145.9L1274.5 144.1L1275.3 142.2L1276.1 140.4L1276.8 138.5L1277.6 136.7L1278.5 134.9L1279.3 133.0L1280.2 131.2L1281.1 129.4L1282.0 127.7L1282.9 125.9L1283.9 124.1L1284.9 122.4L1285.9 120.7L1286.9 119.0L1288.0 117.3L1289.2 115.6L1290.3 114.0L1291.6 112.5L1292.9 110.9L1294.3 109.5L1295.7 108.1L1297.3 106.9L1298.9 105.7L1300.6 104.7L1302.4 103.8L1304.3 103.1L1306.2 102.5L1308.1 102.0L1310.1 101.6L1312.1 101.4L1314.1 101.3L1316.1 101.4L1318.1 101.5L1320.1 101.8L1322.0 102.2L1323.9 102.8L1325.8 103.4L1327.7 104.2L1329.4 105.2L1331.1 106.2L1332.7 107.4L1334.2 108.7L1335.7 110.1L1337.0 111.6L1338.3 113.1L1339.6 114.7L1340.8 116.3L1341.9 118.0L1343.0 119.6L1344.1 121.3L1345.2 123.0L1346.2 124.7L1347.3 126.4L1348.3 128.1L1349.4 129.8L1350.5 131.5L1351.5 133.2L1352.5 134.9L1353.5 136.7L1354.5 138.4L1355.5 140.1L1356.4 141.9L1357.4 143.7L1358.3 145.4L1359.2 147.2L1360.1 149.0L1361.0 150.8L1361.9 152.6L1362.7 154.4L1363.6 156.2L1364.5 158.0L1365.3 159.8L1366.1 161.7L1367.0 163.5L1367.8 165.3L1368.6 167.1L1369.4 169.0L1370.2 170.8L1371.0 172.7L1371.7 174.5L1372.5 176.3L1373.3 178.2L1374.0 180.0L1374.8 181.9L1375.5 183.8L1376.3 185.6L1377.0 187.5L1377.7 189.3L1378.5 191.2L1379.2 193.1L1379.9 194.9L1380.6 196.8L1381.3 198.7L1382.0 200.6L1382.7 202.4L1383.4 204.3L1384.1 206.2L1384.8 208.1L1385.4 210.0L1386.1 211.8L1386.8 213.7L1387.5 215.6L1388.1 217.5L1388.8 219.4L1389.5 221.3L1390.1 223.2L1390.8 225.1L1391.4 226.9L1392.1 228.8L1392.7 230.7L1393.4 232.6L1394.0 234.5L1394.7 236.4L1395.3 238.3L1395.9 240.2L1396.6 242.1L1397.2 244.0L1397.8 245.9L1398.5 247.8L1399.1 249.7L1399.7 251.6L1400.3 253.5L1400.9 255.4L1401.6 257.3L1402.2 259.2L1402.8 261.1L1403.4 263.0L1404.0 264.9L1404.6 266.9L1405.2 268.8L1405.8 270.7L1406.4 272.6L1407.0 274.5L1407.6 276.4L1408.2 278.3L1408.8 280.2L1409.4 282.1L1410.0 284.0L1410.6 285.9L1411.2 287.9L1411.8 289.8L1412.4 291.7L1413.0 293.6L1413.5 295.5L1414.1 297.4L1414.7 299.3L1415.3 301.3L1415.9 303.2L1416.5 305.1L1417.1 307.0L1417.6 308.9L1418.2 310.8L1418.8 312.7L1419.4 314.7L1420.0 316.6L1420.6 318.5L1421.1 320.4L1421.7 322.3L1422.3 324.2L1422.9 326.1L1423.5 328.1L1424.1 330.0L1424.6 331.9L1425.2 333.8L1425.8 335.7L1426.4 337.6L1427.0 339.5L1427.6 341.5L1428.1 343.4L1428.7 345.3L1429.3 347.2L1429.9 349.1L1430.5 351.0L1431.1 352.9L1431.7 354.8L1432.3 356.8L1432.9 358.7L1433.5 360.6L1434.0 362.5L1434.6 364.4L1435.2 366.3L1435.8 368.2L1436.4 370.1L1437.0 372.0L1437.6 374.0L1438.2 375.9L1438.8 377.8L1439.4 379.7L1440.0 381.6L1440.6 383.5L1441.2 385.4L1441.9 387.3L1442.5 389.2L1443.1 391.1L1443.7 393.0L1444.3 394.9L1444.9 396.8L1445.5 398.7L1446.1 400.6L1446.8 402.6L1447.4 404.5L1448.0 406.4L1448.6 408.3L1449.2 410.2L1449.9 412.1L1450.5 414.0L1451.1 415.9L1451.8 417.8L1452.4 419.7L1453.0 421.6L1453.7 423.5L1454.3 425.4L1454.9 427.3L1455.6 429.1L1456.2 431.0L1456.9 432.9L1457.5 434.8L1458.2 436.7L1458.8 438.6L1459.5 440.5L1460.1 442.4L1460.8 444.3L1461.4 446.2L1462.1 448.1L1462.7 450.0L1463.4 451.8L1464.1 453.7L1464.7 455.6L1465.4 457.5L1466.1 459.4L1466.8 461.3L1467.4 463.2L1468.1 465.0L1468.8 466.9L1469.5 468.8L1470.2 470.7L1470.9 472.6L1471.5 474.4L1472.2 476.3L1472.9 478.2L1473.6 480.1L1474.3 481.9L1475.0 483.8L1475.7 485.7L1476.5 487.6L1477.2 489.4L1477.9 491.3L1478.6 493.2L1479.3 495.0L1480.0 496.9L1480.8 498.8L1481.5 500.6L1482.2 502.5L1483.0 504.4L1483.7 506.2L1484.4 508.1L1485.2 509.9L1485.9 511.8L1486.7 513.7L1487.4 515.5L1488.2 517.4L1488.9 519.2L1489.7 521.1L1490.4 522.9L1491.2 524.8L1492.0 526.6L1492.7 528.5L1493.5 530.3L1494.3 532.2L1495.1 534.0L1495.9 535.8L1496.7 537.7L1497.4 539.5L1498.2 541.4L1499.0 543.2L1499.8 545.0L1500.6 546.9L1501.5 548.7L1502.3 550.5L1503.1 552.3L1503.9 554.2L1504.7 556.0L1505.5 557.8L1506.4 559.6L1507.2 561.5L1508.0 563.3L1508.9 565.1L1509.7 566.9L1510.6 568.7L1511.4 570.5L1512.3 572.3L1513.1 574.2L1514.0 576.0L1514.8 577.8L1515.7 579.6L1516.6 581.4L1517.5 583.2L1518.3 585.0L1519.2 586.8L1520.1 588.6L1521.0 590.4L1521.9 592.1L1522.8 593.9L1523.7 595.7L1524.6 597.5L1525.5 599.3L1526.4 601.1L1527.4 602.8L1528.3 604.6L1529.2 606.4L1530.1 608.2L1531.1 609.9L1532.0 611.7L1533.0 613.5L1533.9 615.2L1534.9 617.0L1535.8 618.7L1536.8 620.5L1537.7 622.2L1538.7 624.0L1539.7 625.7L1540.7 627.5L1541.7 629.2L1542.7 631.0L1543.7 632.7L1544.7 634.4L1545.7 636.1L1546.7 637.9L1547.8 639.6L1548.8 641.3L1549.9 643.0L1550.9 644.7L1552.0 646.4L1553.1 648.1L1554.2 649.7L1555.3 651.4L1556.4 653.1L1557.5 654.7L1558.6 656.4L1559.7 658.0L1560.9 659.7L1562.0 661.3L1563.2 662.9L1564.4 664.6L1565.6 666.2L1566.8 667.8L1568.0 669.4L1569.2 670.9L1570.5 672.5L1571.7 674.1L1573.0 675.6L1574.2 677.2L1575.5 678.7L1576.8 680.2L1578.1 681.7L1579.5 683.2L1580.8 684.7L1582.2 686.2L1583.5 687.7L1584.9 689.1L1586.3 690.6L1587.7 692.0L1589.1 693.4L1590.6 694.8L1592.0 696.2L1593.5 697.5L1594.9 698.9L1596.4 700.2L1597.9 701.5L1599.4 702.8L1601.0 704.1L1602.5 705.4L1604.1 706.7L1605.7 707.9L1607.2 709.1L1608.8 710.3L1610.4 711.5L1612.0 712.7L1613.7 713.9L1615.3 715.1L1616.9 716.2L1618.6 717.4L1620.2 718.5L1621.8 719.7L1623.5 720.8L1625.1 721.9L1626.8 723.1L1628.4 724.2L1630.1 725.4L1631.7 726.5L1633.4 727.6L1635.0 728.8L1636.7 729.9L1638.3 731.0L1640.0 732.1L1641.7 733.2L1643.4 734.3L1645.1 735.3L1646.8 736.4L1648.5 737.4L1650.2 738.4L1651.9 739.4L1653.7 740.4L1655.4 741.4L1657.2 742.3L1659.0 743.2L1660.8 744.1L1662.6 745.0L1664.4 745.9L1666.2 746.7L1668.0 747.6L1669.8 748.4L1671.7 749.2L1673.5 749.9L1675.4 750.7L1677.3 751.4L1679.1 752.1L1681.0 752.7L1682.9 753.4L1684.8 754.0L1686.7 754.6L1688.6 755.2L1690.6 755.7L1692.5 756.2L1694.5 756.7L1696.4 757.1" stroke="#111111"/>
</g>
<defs><linearGradient id="gl" x1="0" y1="0" x2="1" y2="0"><stop offset="0" stop-color="#2e2e2e" stop-opacity="0.75"/><stop offset="1" stop-color="#2e2e2e" stop-opacity="0"/></linearGradient><linearGradient id="gr" x1="1" y1="0" x2="0" y2="0"><stop offset="0" stop-color="#1a1a1a" stop-opacity="0.65"/><stop offset="1" stop-color="#1a1a1a" stop-opacity="0"/></linearGradient><linearGradient id="gt" x1="0" y1="0" x2="0" y2="1"><stop offset="0" stop-color="#2e2e2e" stop-opacity="0.75"/><stop offset="1" stop-color="#2e2e2e" stop-opacity="0"/></linearGradient><linearGradient id="gb" x1="0" y1="0" x2="0" y2="1"><stop offset="0" stop-color="#1a1a1a" stop-opacity="0.25"/><stop offset="1" stop-color="#1a1a1a" stop-opacity="0"/></linearGradient></defs>
<rect x="240.5" y="24" width="4" height="893.5" fill="url(#gl)"/>
<rect x="1693.0" y="24" width="4.8" height="893.5" fill="url(#gr)"/>
<rect x="237" y="27" width="1463.5" height="4" fill="url(#gt)"/>
<rect x="237" y="917.4" width="1463.5" height="3.5" fill="url(#gb)"/>
<rect x="237.3" y="24" width="3.2" height="893.5" fill="#2a2a2a"/>
<rect x="1697.6" y="24" width="2.6" height="893.5" fill="#141414"/>
<rect x="237" y="24" width="1463.5" height="3.1" fill="#2c2c2c"/>
<rect x="237" y="914.6" width="1463.5" height="2.8" fill="#141414"/>
<g stroke="#1a1a1a" fill="none">
<line x1="240.0" y1="100.6" x2="278.5" y2="100.6" stroke-width="3.1"/>
<line x1="240.0" y1="471.5" x2="278.5" y2="471.5" stroke-width="3.1"/>
<line x1="240.0" y1="842.4" x2="278.5" y2="842.4" stroke-width="3.1"/>
<line x1="240.0" y1="286.1" x2="258.3" y2="286.1" stroke-width="3.1"/>
<line x1="240.0" y1="657.0" x2="258.3" y2="657.0" stroke-width="3.1"/>
<line x1="336.7" y1="915.0" x2="336.7" y2="878.8" stroke-width="3.1"/>
<line x1="725.6" y1="915.0" x2="725.6" y2="878.8" stroke-width="3.1"/>
<line x1="1114.4" y1="915.0" x2="1114.4" y2="878.8" stroke-width="3.1"/>
<line x1="1503.3" y1="915.0" x2="1503.3" y2="878.8" stroke-width="3.1"/>
<line x1="531.1" y1="915.0" x2="531.1" y2="896.5" stroke-width="3.1"/>
<line x1="920.0" y1="915.0" x2="920.0" y2="896.5" stroke-width="3.1"/>
<line x1="1308.8" y1="915.0" x2="1308.8" y2="896.5" stroke-width="3.1"/>
</g>
<g font-family="'Liberation Sans', Arial, Helvetica, sans-serif" font-size="62" fill="#111">
<text transform="translate(111.39 122.20) scale(1.0620 1.0530)" text-anchor="start" fill="#111">1.0</text>
<g transform="translate(111.39 122.20) scale(1.0620 1.0530)" fill="#fff"><rect x="3.72" y="-6.00" width="11.81" height="7.50"/><rect x="21.11" y="-6.00" width="11.75" height="7.50"/></g>
<text transform="translate(109.93 492.60) scale(1.0854 1.0530)" text-anchor="start" fill="#111">0.5</text>
<text transform="translate(109.94 863.00) scale(1.0793 1.0530)" text-anchor="start" fill="#111">0.0</text>
<text transform="translate(278.99 1007.30) scale(1.1110 1.0530)" text-anchor="start" fill="#111">400</text>
<text transform="translate(667.69 1007.30) scale(1.1020 1.0530)" text-anchor="start" fill="#111">600</text>
<text transform="translate(1056.66 1007.30) scale(1.1122 1.0530)" text-anchor="start" fill="#111">800</text>
<text transform="translate(1428.44 1007.30) scale(1.0924 1.0530)" text-anchor="start" fill="#111">1000</text>
<g transform="translate(1428.44 1007.30) scale(1.0924 1.0530)" fill="#fff"><rect x="3.72" y="-6.00" width="11.81" height="7.50"/><rect x="21.11" y="-6.00" width="11.75" height="7.50"/></g>
<text transform="translate(725.90 1080.80) scale(1.0391 1.0530)" text-anchor="start" fill="#111">Wavelength (nm)</text>
<text transform="translate(330.26 110.80) scale(1.0456 1.0530)" text-anchor="start" fill="#111">after PM</text>
<text transform="translate(329.56 179.95) scale(1.0384 1.0530)" text-anchor="start" fill="#111">flow rate (mm/s)</text>
<text transform="translate(332.34 249.10) scale(1.0311 1.0530)" text-anchor="start" fill="#8e22aa">15</text>
<g transform="translate(332.34 249.10) scale(1.0311 1.0530)" fill="#fff"><rect x="3.72" y="-6.00" width="11.81" height="7.50"/><rect x="21.11" y="-6.00" width="11.75" height="7.50"/></g>
<text transform="translate(330.17 318.25) scale(1.0444 1.0530)" text-anchor="start" fill="#1c16d4">7.5</text>
<text transform="translate(331.86 387.40) scale(1.0216 1.0530)" text-anchor="start" fill="#dc1030">3.75</text>
<text transform="translate(333.46 456.55) scale(1.0088 1.0530)" text-anchor="start" fill="#f07828">1.88</text>
<g transform="translate(333.46 456.55) scale(1.0088 1.0530)" fill="#fff"><rect x="3.72" y="-6.00" width="11.81" height="7.50"/><rect x="21.11" y="-6.00" width="11.75" height="7.50"/></g>
<text transform="translate(332.28 525.70) scale(1.0103 1.0530)" text-anchor="start" fill="#1a6644">0.94</text>
<text transform="translate(1369.70 131.50) scale(1.0366 1.0530)" text-anchor="start" fill="#111">AuNRs</text>
<text transform="translate(74.00 606.02) rotate(-90) scale(1.0035 1.0530)" text-anchor="start" fill="#111">Extinction</text>
</g>
</svg>
</body></html>
